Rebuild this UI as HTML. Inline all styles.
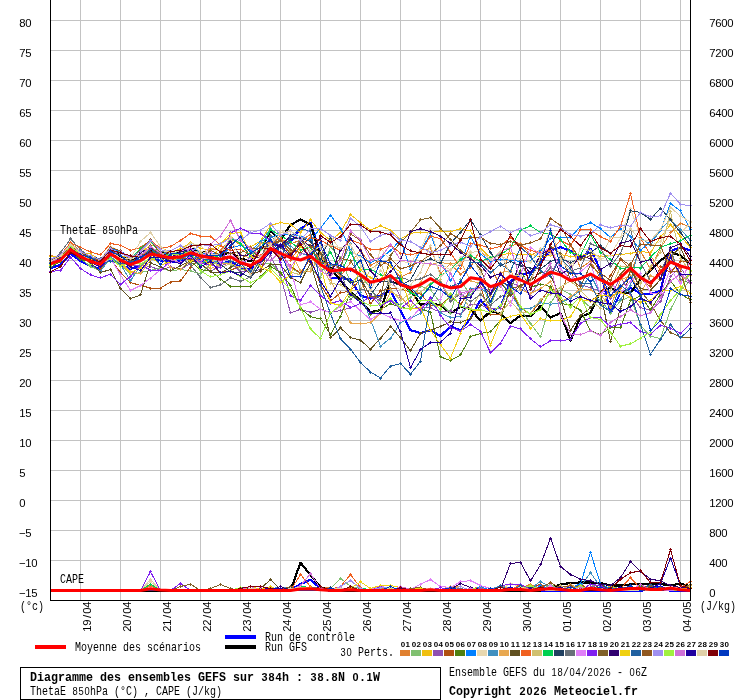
<!DOCTYPE html>
<html><head><meta charset="utf-8"><title>Diagramme des ensembles GEFS</title>
<style>
html,body{margin:0;padding:0;background:#fff;}
body{width:740px;height:700px;overflow:hidden;font-family:"Liberation Mono",monospace;}
svg{display:block;}
text{font-family:"Liberation Mono",monospace;}
</style></head><body>
<svg width="740" height="700" viewBox="0 0 740 700">
<rect width="740" height="700" fill="#fff"/>
<path d="M80.5,0V600M120.5,0V600M160.5,0V600M200.5,0V600M240.5,0V600M280.5,0V600M320.5,0V600M360.5,0V600M400.5,0V600M440.5,0V600M480.5,0V600M520.5,0V600M560.5,0V600M600.5,0V600M640.5,0V600M680.5,0V600M50,20.5H690M50,50.5H690M50,80.5H690M50,110.5H690M50,140.5H690M50,170.5H690M50,200.5H690M50,230.5H690M50,260.5H690M50,290.5H690M50,320.5H690M50,350.5H690M50,380.5H690M50,410.5H690M50,440.5H690M50,470.5H690M50,500.5H690M50,530.5H690M50,560.5H690M50,590.5H690" stroke="#c3c3c3" stroke-width="1" fill="none" shape-rendering="crispEdges"/>
<g transform="translate(0.5,0.5)" stroke-linejoin="round" shape-rendering="crispEdges">
<polyline points="50,267.8 60,264.1 70,253.4 80,260.4 90,265.5 100,268.3 110,257.9 120,264.1 130,268.5 140,264.8 150,258.0 160,260.0 170,261.8 180,260.8 190,256.8 200,260.0 210,261.8 220,263.3 230,260.8 240,266.7 250,269.5 260,262.0 270,240.0 280,247.0 290,241.6 300,228.0 310,222.3 320,253.5 330,277.3 340,277.3 350,278.8 360,295.0 370,298.0 380,295.0 390,290.0 400,310.3 410,329.6 420,332.6 430,329.6 440,335.5 450,325.7 460,330.0 470,318.0 480,299.5 490,311.4 500,306.2 510,281.0 520,274.0 530,272.0 540,262.4 550,250.0 560,246.7 570,250.4 580,259.3 590,248.2 600,270.0 610,312.6 620,292.5 630,287.3 640,293.0 650,293.7 660,290.5 670,250.6 680,246.9 690,249.9" fill="none" stroke="#0000ff" stroke-width="2.2" />
<polyline points="50,590.5 60,590.5 70,590.5 80,590.5 90,590.5 100,590.5 110,590.5 120,590.5 130,590.5 140,590.5 150,590.5 160,590.5 170,590.5 180,590.5 190,590.5 200,590.5 210,590.5 220,590.5 230,590.5 240,590.5 250,590.5 260,590.5 270,590.5 280,590.5 290,589.5 300,583.6 310,579.2 320,588.0 330,590.5 340,590.5 350,590.5 360,590.5 370,590.5 380,590.5 390,590.5 400,590.5 410,590.5 420,590.5 430,590.5 440,590.5 450,590.5 460,590.5 470,590.5 480,590.5 490,590.5 500,590.5 510,590.5 520,590.5 530,589.0 540,590.5 550,590.5 560,590.5 570,590.5 580,590.5 590,590.5 600,590.5 610,590.5 620,590.5 630,590.5 640,590.5 650,588.0 660,586.0 670,590.5 680,590.5 690,590.5" fill="none" stroke="#0000ff" stroke-width="2.2" />
<polyline points="50,259.1 60,255.4 70,244.7 80,251.7 90,256.8 100,259.6 110,249.2 120,255.4 130,259.8 140,256.1 150,249.3 160,251.3 170,253.1 180,252.1 190,248.1 200,251.3 210,253.1 220,254.6 230,252.1 240,258.0 250,260.8 260,250.0 270,230.5 280,239.4 290,224.5 300,219.0 310,223.8 320,257.0 330,267.0 340,280.0 350,291.5 360,299.9 370,311.8 380,309.5 390,281.0 400,284.0 410,289.5 420,304.3 430,302.5 440,305.0 450,312.7 460,306.2 470,308.4 480,320.3 490,310.7 500,312.9 510,322.6 520,315.1 530,315.9 540,305.5 550,317.0 560,312.6 570,340.0 580,316.3 590,312.6 600,291.0 610,287.3 620,291.8 630,292.5 640,278.5 650,270.3 660,260.3 670,251.4 680,255.0 690,263.2" fill="none" stroke="#000000" stroke-width="2.2" />
<polyline points="50,590.0 60,590.0 70,590.0 80,590.0 90,590.0 100,590.0 110,590.0 120,590.0 130,590.0 140,590.0 150,590.0 160,590.0 170,590.0 180,590.0 190,590.0 200,590.0 210,590.0 220,590.0 230,590.0 240,590.0 250,590.0 260,590.0 270,590.0 280,590.0 290,590.0 300,562.2 310,574.7 320,586.6 330,590.0 340,590.0 350,590.0 360,590.0 370,590.0 380,590.0 390,590.0 400,590.0 410,590.0 420,590.0 430,590.0 440,590.0 450,590.0 460,590.0 470,590.0 480,590.0 490,590.0 500,590.0 510,590.0 520,590.0 530,590.0 540,590.0 550,587.0 560,584.0 570,582.5 580,582.0 590,582.0 600,582.5 610,585.0 620,585.0 630,584.0 640,583.5 650,583.5 660,583.5 670,585.0 680,583.0 690,586.0" fill="none" stroke="#000000" stroke-width="2.2" />
</g>
<g shape-rendering="crispEdges" transform="translate(0.5,0.5)">
<polyline points="50,255.0 60,257.0 70,243.0 80,250.1 90,256.2 100,260.4 110,250.2 120,252.7 130,258.3 140,256.3 150,247.1 160,251.1 170,251.6 180,253.6 190,249.7 200,254.8 210,248.3 220,249.9 230,238.5 240,244.3 250,250.2 260,241.4 270,242.4 280,238.2 290,243.4 300,239.6 310,234.4 320,264.9 330,263.9 340,275.8 350,262.5 360,249.3 370,264.8 380,260.0 390,265.7 400,276.7 410,272.0 420,249.5 430,248.2 440,272.8 450,263.1 460,273.6 470,266.8 480,248.8 490,265.6 500,286.3 510,245.4 520,243.0 530,254.9 540,249.5 550,251.3 560,264.0 570,244.2 580,267.5 590,260.7 600,277.4 610,298.1 620,288.2 630,271.5 640,250.4 650,268.9 660,247.4 670,232.5 680,222.7 690,226.8" fill="none" stroke="#E08030" stroke-width="1" />
<path d="M48.5,255.0h3M50,253.5v3M58.5,257.0h3M60,255.5v3M68.5,243.0h3M70,241.5v3M78.5,250.0h3M80,248.5v3M88.5,256.0h3M90,254.5v3M98.5,260.0h3M100,258.5v3M108.5,250.0h3M110,248.5v3M118.5,253.0h3M120,251.5v3M128.5,258.0h3M130,256.5v3M138.5,256.0h3M140,254.5v3M148.5,247.0h3M150,245.5v3M158.5,251.0h3M160,249.5v3M168.5,252.0h3M170,250.5v3M178.5,254.0h3M180,252.5v3M188.5,250.0h3M190,248.5v3M198.5,255.0h3M200,253.5v3M208.5,248.0h3M210,246.5v3M218.5,250.0h3M220,248.5v3M228.5,238.0h3M230,236.5v3M238.5,244.0h3M240,242.5v3M248.5,250.0h3M250,248.5v3M258.5,241.0h3M260,239.5v3M268.5,242.0h3M270,240.5v3M278.5,238.0h3M280,236.5v3M288.5,243.0h3M290,241.5v3M298.5,240.0h3M300,238.5v3M308.5,234.0h3M310,232.5v3M318.5,265.0h3M320,263.5v3M328.5,264.0h3M330,262.5v3M338.5,276.0h3M340,274.5v3M348.5,262.0h3M350,260.5v3M358.5,249.0h3M360,247.5v3M368.5,265.0h3M370,263.5v3M378.5,260.0h3M380,258.5v3M388.5,266.0h3M390,264.5v3M398.5,277.0h3M400,275.5v3M408.5,272.0h3M410,270.5v3M418.5,249.0h3M420,247.5v3M428.5,248.0h3M430,246.5v3M438.5,273.0h3M440,271.5v3M448.5,263.0h3M450,261.5v3M458.5,274.0h3M460,272.5v3M468.5,267.0h3M470,265.5v3M478.5,249.0h3M480,247.5v3M488.5,266.0h3M490,264.5v3M498.5,286.0h3M500,284.5v3M508.5,245.0h3M510,243.5v3M518.5,243.0h3M520,241.5v3M528.5,255.0h3M530,253.5v3M538.5,249.0h3M540,247.5v3M548.5,251.0h3M550,249.5v3M558.5,264.0h3M560,262.5v3M568.5,244.0h3M570,242.5v3M578.5,268.0h3M580,266.5v3M588.5,261.0h3M590,259.5v3M598.5,277.0h3M600,275.5v3M608.5,298.0h3M610,296.5v3M618.5,288.0h3M620,286.5v3M628.5,271.0h3M630,269.5v3M638.5,250.0h3M640,248.5v3M648.5,269.0h3M650,267.5v3M658.5,247.0h3M660,245.5v3M668.5,232.0h3M670,230.5v3M678.5,223.0h3M680,221.5v3M688.5,227.0h3M690,225.5v3" stroke="#E08030" stroke-width="1" fill="none"/>
<polyline points="50,589.0 60,590.0 70,590.0 80,590.0 90,590.0 100,590.0 110,589.0 120,590.0 130,590.0 140,590.0 150,585.0 160,590.0 170,589.0 180,590.0 190,590.0 200,590.0 210,590.0 220,590.0 230,590.0 240,590.0 250,589.0 260,590.0 270,590.0 280,589.0 290,590.0 300,590.0 310,590.0 320,588.0 330,587.0 340,590.0 350,590.0 360,590.0 370,589.0 380,590.0 390,590.0 400,589.0 410,590.0 420,589.0 430,590.0 440,590.0 450,590.0 460,590.0 470,588.0 480,587.0 490,590.0 500,590.0 510,590.0 520,588.4 530,583.6 540,589.0 550,590.0 560,590.0 570,590.0 580,590.0 590,590.0 600,589.0 610,590.0 620,590.0 630,590.0 640,590.0 650,590.0 660,590.0 670,589.0 680,586.8 690,586.8" fill="none" stroke="#E08030" stroke-width="1" />
<path d="M148.5,585h3M150,583.5v3M318.5,588h3M320,586.5v3M328.5,587h3M330,585.5v3M468.5,588h3M470,586.5v3M478.5,587h3M480,585.5v3M518.5,588h3M520,586.5v3M528.5,584h3M530,582.5v3M678.5,587h3M680,585.5v3M688.5,587h3M690,585.5v3" stroke="#E08030" stroke-width="1" fill="none"/>
<polyline points="50,263.5 60,261.1 70,249.8 80,257.9 90,266.1 100,270.3 110,257.7 120,262.9 130,274.5 140,272.0 150,270.0 160,267.4 170,270.4 180,269.0 190,270.4 200,273.4 210,263.6 220,261.4 230,264.4 240,269.2 250,270.2 260,263.3 270,262.5 280,272.8 290,267.3 300,272.8 310,267.8 320,277.0 330,246.4 340,257.1 350,282.1 360,274.9 370,287.8 380,303.9 390,300.7 400,304.1 410,297.2 420,285.7 430,289.2 440,302.6 450,312.6 460,278.9 470,295.3 480,278.8 490,305.2 500,280.4 510,287.2 520,309.1 530,323.0 540,336.2 550,302.5 560,288.5 570,294.0 580,297.6 590,307.2 600,298.9 610,312.5 620,300.3 630,296.1 640,325.0 650,335.8 660,338.0 670,309.0 680,289.7 690,280.0" fill="none" stroke="#80C070" stroke-width="1" />
<path d="M48.5,264.0h3M50,262.5v3M58.5,261.0h3M60,259.5v3M68.5,250.0h3M70,248.5v3M78.5,258.0h3M80,256.5v3M88.5,266.0h3M90,264.5v3M98.5,270.0h3M100,268.5v3M108.5,258.0h3M110,256.5v3M118.5,263.0h3M120,261.5v3M128.5,274.0h3M130,272.5v3M138.5,272.0h3M140,270.5v3M148.5,270.0h3M150,268.5v3M158.5,267.0h3M160,265.5v3M168.5,270.0h3M170,268.5v3M178.5,269.0h3M180,267.5v3M188.5,270.0h3M190,268.5v3M198.5,273.0h3M200,271.5v3M208.5,264.0h3M210,262.5v3M218.5,261.0h3M220,259.5v3M228.5,264.0h3M230,262.5v3M238.5,269.0h3M240,267.5v3M248.5,270.0h3M250,268.5v3M258.5,263.0h3M260,261.5v3M268.5,263.0h3M270,261.5v3M278.5,273.0h3M280,271.5v3M288.5,267.0h3M290,265.5v3M298.5,273.0h3M300,271.5v3M308.5,268.0h3M310,266.5v3M318.5,277.0h3M320,275.5v3M328.5,246.0h3M330,244.5v3M338.5,257.0h3M340,255.5v3M348.5,282.0h3M350,280.5v3M358.5,275.0h3M360,273.5v3M368.5,288.0h3M370,286.5v3M378.5,304.0h3M380,302.5v3M388.5,301.0h3M390,299.5v3M398.5,304.0h3M400,302.5v3M408.5,297.0h3M410,295.5v3M418.5,286.0h3M420,284.5v3M428.5,289.0h3M430,287.5v3M438.5,303.0h3M440,301.5v3M448.5,313.0h3M450,311.5v3M458.5,279.0h3M460,277.5v3M468.5,295.0h3M470,293.5v3M478.5,279.0h3M480,277.5v3M488.5,305.0h3M490,303.5v3M498.5,280.0h3M500,278.5v3M508.5,287.0h3M510,285.5v3M518.5,309.0h3M520,307.5v3M528.5,323.0h3M530,321.5v3M538.5,336.0h3M540,334.5v3M548.5,302.0h3M550,300.5v3M558.5,288.0h3M560,286.5v3M568.5,294.0h3M570,292.5v3M578.5,298.0h3M580,296.5v3M588.5,307.0h3M590,305.5v3M598.5,299.0h3M600,297.5v3M608.5,313.0h3M610,311.5v3M618.5,300.0h3M620,298.5v3M628.5,296.0h3M630,294.5v3M638.5,325.0h3M640,323.5v3M648.5,336.0h3M650,334.5v3M658.5,338.0h3M660,336.5v3M668.5,309.0h3M670,307.5v3M678.5,290.0h3M680,288.5v3M688.5,280.0h3M690,278.5v3" stroke="#80C070" stroke-width="1" fill="none"/>
<polyline points="50,590.0 60,590.0 70,590.0 80,590.0 90,590.0 100,590.0 110,590.0 120,590.0 130,590.0 140,590.0 150,590.0 160,590.0 170,589.0 180,590.0 190,590.0 200,590.0 210,589.0 220,589.0 230,589.0 240,590.0 250,590.0 260,590.0 270,589.0 280,590.0 290,590.0 300,589.0 310,590.0 320,590.0 330,588.0 340,577.7 350,586.0 360,588.0 370,589.0 380,588.0 390,590.0 400,588.0 410,590.0 420,590.0 430,590.0 440,590.0 450,589.0 460,589.0 470,590.0 480,590.0 490,589.0 500,590.0 510,590.0 520,590.0 530,586.8 540,590.0 550,583.6 560,590.0 570,590.0 580,590.0 590,583.6 600,590.0 610,585.2 620,589.0 630,590.0 640,590.0 650,590.0 660,590.0 670,589.0 680,590.0 690,590.0" fill="none" stroke="#80C070" stroke-width="1" />
<path d="M328.5,588h3M330,586.5v3M338.5,578h3M340,576.5v3M348.5,586h3M350,584.5v3M358.5,588h3M360,586.5v3M378.5,588h3M380,586.5v3M398.5,588h3M400,586.5v3M528.5,587h3M530,585.5v3M548.5,584h3M550,582.5v3M588.5,584h3M590,582.5v3M608.5,585h3M610,583.5v3" stroke="#80C070" stroke-width="1" fill="none"/>
<polyline points="50,255.5 60,256.0 70,244.0 80,251.8 90,253.5 100,259.5 110,248.0 120,255.1 130,257.5 140,252.6 150,244.7 160,246.9 170,251.7 180,248.3 190,242.2 200,248.0 210,249.5 220,243.5 230,235.6 240,243.8 250,246.4 260,240.5 270,225.0 280,222.0 290,223.8 300,232.0 310,219.3 320,232.0 330,240.0 340,232.0 350,214.0 360,222.3 370,229.7 380,225.3 390,229.7 400,238.6 410,232.7 420,232.0 430,232.0 440,230.5 450,231.2 460,228.2 470,230.5 480,247.6 490,257.2 500,254.3 510,252.8 520,254.3 530,253.5 540,256.5 550,255.0 560,254.0 570,256.0 580,255.0 590,253.0 600,256.0 610,255.0 620,254.0 630,253.0 640,250.6 650,252.5 660,236.5 670,224.3 680,235.7 690,247.0" fill="none" stroke="#F0C010" stroke-width="1" />
<path d="M48.5,256.0h3M50,254.5v3M58.5,256.0h3M60,254.5v3M68.5,244.0h3M70,242.5v3M78.5,252.0h3M80,250.5v3M88.5,253.0h3M90,251.5v3M98.5,259.0h3M100,257.5v3M108.5,248.0h3M110,246.5v3M118.5,255.0h3M120,253.5v3M128.5,257.0h3M130,255.5v3M138.5,253.0h3M140,251.5v3M148.5,245.0h3M150,243.5v3M158.5,247.0h3M160,245.5v3M168.5,252.0h3M170,250.5v3M178.5,248.0h3M180,246.5v3M188.5,242.0h3M190,240.5v3M198.5,248.0h3M200,246.5v3M208.5,250.0h3M210,248.5v3M218.5,244.0h3M220,242.5v3M228.5,236.0h3M230,234.5v3M238.5,244.0h3M240,242.5v3M248.5,246.0h3M250,244.5v3M258.5,241.0h3M260,239.5v3M268.5,225.0h3M270,223.5v3M278.5,222.0h3M280,220.5v3M288.5,224.0h3M290,222.5v3M298.5,232.0h3M300,230.5v3M308.5,219.0h3M310,217.5v3M318.5,232.0h3M320,230.5v3M328.5,240.0h3M330,238.5v3M338.5,232.0h3M340,230.5v3M348.5,214.0h3M350,212.5v3M358.5,222.0h3M360,220.5v3M368.5,230.0h3M370,228.5v3M378.5,225.0h3M380,223.5v3M388.5,230.0h3M390,228.5v3M398.5,239.0h3M400,237.5v3M408.5,233.0h3M410,231.5v3M418.5,232.0h3M420,230.5v3M428.5,232.0h3M430,230.5v3M438.5,230.0h3M440,228.5v3M448.5,231.0h3M450,229.5v3M458.5,228.0h3M460,226.5v3M468.5,230.0h3M470,228.5v3M478.5,248.0h3M480,246.5v3M488.5,257.0h3M490,255.5v3M498.5,254.0h3M500,252.5v3M508.5,253.0h3M510,251.5v3M518.5,254.0h3M520,252.5v3M528.5,254.0h3M530,252.5v3M538.5,256.0h3M540,254.5v3M548.5,255.0h3M550,253.5v3M558.5,254.0h3M560,252.5v3M568.5,256.0h3M570,254.5v3M578.5,255.0h3M580,253.5v3M588.5,253.0h3M590,251.5v3M598.5,256.0h3M600,254.5v3M608.5,255.0h3M610,253.5v3M618.5,254.0h3M620,252.5v3M628.5,253.0h3M630,251.5v3M638.5,251.0h3M640,249.5v3M648.5,252.0h3M650,250.5v3M658.5,236.0h3M660,234.5v3M668.5,224.0h3M670,222.5v3M678.5,236.0h3M680,234.5v3M688.5,247.0h3M690,245.5v3" stroke="#F0C010" stroke-width="1" fill="none"/>
<polyline points="50,590.0 60,590.0 70,590.0 80,590.0 90,589.0 100,590.0 110,590.0 120,590.0 130,590.0 140,590.0 150,589.0 160,590.0 170,589.0 180,590.0 190,590.0 200,590.0 210,590.0 220,590.0 230,590.0 240,589.0 250,588.0 260,589.0 270,590.0 280,589.0 290,590.0 300,590.0 310,590.0 320,590.0 330,590.0 340,590.0 350,589.0 360,589.0 370,589.0 380,586.0 390,590.0 400,590.0 410,590.0 420,590.0 430,589.0 440,590.0 450,589.0 460,586.0 470,590.0 480,590.0 490,590.0 500,590.0 510,588.4 520,590.0 530,590.0 540,590.0 550,590.0 560,590.0 570,590.0 580,590.0 590,590.0 600,590.0 610,585.2 620,590.0 630,589.0 640,590.0 650,590.0 660,588.4 670,590.0 680,590.0 690,586.8" fill="none" stroke="#F0C010" stroke-width="1" />
<path d="M248.5,588h3M250,586.5v3M378.5,586h3M380,584.5v3M458.5,586h3M460,584.5v3M508.5,588h3M510,586.5v3M608.5,585h3M610,583.5v3M658.5,588h3M660,586.5v3M688.5,587h3M690,585.5v3" stroke="#F0C010" stroke-width="1" fill="none"/>
<polyline points="50,262.8 60,254.3 70,243.7 80,256.8 90,259.1 100,259.6 110,249.2 120,258.4 130,265.5 140,264.4 150,266.1 160,269.6 170,266.5 180,268.8 190,263.2 200,263.4 210,270.7 220,265.2 230,261.9 240,271.4 250,270.8 260,269.0 270,255.2 280,275.0 290,312.5 300,308.8 310,311.8 320,308.8 330,311.8 340,310.0 350,307.3 360,302.8 370,295.4 380,300.0 390,277.5 400,296.5 410,308.0 420,306.8 430,307.5 440,311.6 450,310.3 460,313.6 470,303.7 480,304.8 490,307.6 500,307.9 510,282.4 520,285.5 530,294.5 540,279.3 550,274.0 560,255.0 570,264.6 580,283.9 590,287.2 600,290.7 610,297.6 620,275.5 630,294.1 640,307.2 650,309.6 660,301.5 670,275.9 680,266.8 690,282.3" fill="none" stroke="#9050B0" stroke-width="1" />
<path d="M48.5,263.0h3M50,261.5v3M58.5,254.0h3M60,252.5v3M68.5,244.0h3M70,242.5v3M78.5,257.0h3M80,255.5v3M88.5,259.0h3M90,257.5v3M98.5,260.0h3M100,258.5v3M108.5,249.0h3M110,247.5v3M118.5,258.0h3M120,256.5v3M128.5,265.0h3M130,263.5v3M138.5,264.0h3M140,262.5v3M148.5,266.0h3M150,264.5v3M158.5,270.0h3M160,268.5v3M168.5,266.0h3M170,264.5v3M178.5,269.0h3M180,267.5v3M188.5,263.0h3M190,261.5v3M198.5,263.0h3M200,261.5v3M208.5,271.0h3M210,269.5v3M218.5,265.0h3M220,263.5v3M228.5,262.0h3M230,260.5v3M238.5,271.0h3M240,269.5v3M248.5,271.0h3M250,269.5v3M258.5,269.0h3M260,267.5v3M268.5,255.0h3M270,253.5v3M278.5,275.0h3M280,273.5v3M288.5,312.0h3M290,310.5v3M298.5,309.0h3M300,307.5v3M308.5,312.0h3M310,310.5v3M318.5,309.0h3M320,307.5v3M328.5,312.0h3M330,310.5v3M338.5,310.0h3M340,308.5v3M348.5,307.0h3M350,305.5v3M358.5,303.0h3M360,301.5v3M368.5,295.0h3M370,293.5v3M378.5,300.0h3M380,298.5v3M388.5,277.0h3M390,275.5v3M398.5,297.0h3M400,295.5v3M408.5,308.0h3M410,306.5v3M418.5,307.0h3M420,305.5v3M428.5,307.0h3M430,305.5v3M438.5,312.0h3M440,310.5v3M448.5,310.0h3M450,308.5v3M458.5,314.0h3M460,312.5v3M468.5,304.0h3M470,302.5v3M478.5,305.0h3M480,303.5v3M488.5,308.0h3M490,306.5v3M498.5,308.0h3M500,306.5v3M508.5,282.0h3M510,280.5v3M518.5,286.0h3M520,284.5v3M528.5,295.0h3M530,293.5v3M538.5,279.0h3M540,277.5v3M548.5,274.0h3M550,272.5v3M558.5,255.0h3M560,253.5v3M568.5,265.0h3M570,263.5v3M578.5,284.0h3M580,282.5v3M588.5,287.0h3M590,285.5v3M598.5,291.0h3M600,289.5v3M608.5,298.0h3M610,296.5v3M618.5,275.0h3M620,273.5v3M628.5,294.0h3M630,292.5v3M638.5,307.0h3M640,305.5v3M648.5,310.0h3M650,308.5v3M658.5,301.0h3M660,299.5v3M668.5,276.0h3M670,274.5v3M678.5,267.0h3M680,265.5v3M688.5,282.0h3M690,280.5v3" stroke="#9050B0" stroke-width="1" fill="none"/>
<polyline points="50,590.0 60,590.0 70,590.0 80,590.0 90,590.0 100,590.0 110,590.0 120,590.0 130,590.0 140,590.0 150,590.0 160,590.0 170,590.0 180,590.0 190,590.0 200,590.0 210,590.0 220,590.0 230,590.0 240,590.0 250,588.0 260,590.0 270,590.0 280,588.0 290,590.0 300,586.0 310,589.0 320,589.0 330,589.0 340,587.0 350,590.0 360,590.0 370,590.0 380,589.0 390,589.0 400,590.0 410,590.0 420,590.0 430,590.0 440,590.0 450,590.0 460,590.0 470,590.0 480,588.0 490,590.0 500,590.0 510,589.0 520,589.0 530,589.0 540,583.6 550,590.0 560,590.0 570,585.2 580,590.0 590,586.8 600,583.6 610,590.0 620,590.0 630,590.0 640,585.2 650,586.8 660,590.0 670,590.0 680,590.0 690,590.0" fill="none" stroke="#9050B0" stroke-width="1" />
<path d="M248.5,588h3M250,586.5v3M278.5,588h3M280,586.5v3M298.5,586h3M300,584.5v3M338.5,587h3M340,585.5v3M478.5,588h3M480,586.5v3M538.5,584h3M540,582.5v3M568.5,585h3M570,583.5v3M588.5,587h3M590,585.5v3M598.5,584h3M600,582.5v3M638.5,585h3M640,583.5v3M648.5,587h3M650,585.5v3" stroke="#9050B0" stroke-width="1" fill="none"/>
<polyline points="50,263.4 60,256.5 70,244.8 80,254.2 90,260.2 100,267.6 110,258.4 120,272.0 130,282.0 140,285.0 150,287.5 160,287.5 170,281.6 180,280.5 190,266.7 200,257.3 210,262.1 220,272.5 230,269.7 240,265.8 250,273.1 260,271.0 270,242.9 280,253.0 290,265.5 300,272.7 310,257.9 320,284.0 330,300.4 340,292.4 350,290.6 360,278.6 370,303.3 380,290.3 390,288.1 400,288.6 410,291.4 420,293.1 430,304.8 440,304.9 450,295.7 460,304.2 470,289.3 480,286.6 490,313.7 500,313.8 510,290.0 520,307.7 530,313.3 540,300.9 550,287.4 560,293.5 570,268.3 580,295.6 590,300.5 600,293.9 610,274.9 620,258.8 630,269.0 640,278.3 650,286.3 660,266.2 670,271.7 680,261.1 690,260.4" fill="none" stroke="#B05010" stroke-width="1" />
<path d="M48.5,263.0h3M50,261.5v3M58.5,256.0h3M60,254.5v3M68.5,245.0h3M70,243.5v3M78.5,254.0h3M80,252.5v3M88.5,260.0h3M90,258.5v3M98.5,268.0h3M100,266.5v3M108.5,258.0h3M110,256.5v3M118.5,272.0h3M120,270.5v3M128.5,282.0h3M130,280.5v3M138.5,285.0h3M140,283.5v3M148.5,288.0h3M150,286.5v3M158.5,288.0h3M160,286.5v3M168.5,282.0h3M170,280.5v3M178.5,280.0h3M180,278.5v3M188.5,267.0h3M190,265.5v3M198.5,257.0h3M200,255.5v3M208.5,262.0h3M210,260.5v3M218.5,272.0h3M220,270.5v3M228.5,270.0h3M230,268.5v3M238.5,266.0h3M240,264.5v3M248.5,273.0h3M250,271.5v3M258.5,271.0h3M260,269.5v3M268.5,243.0h3M270,241.5v3M278.5,253.0h3M280,251.5v3M288.5,265.0h3M290,263.5v3M298.5,273.0h3M300,271.5v3M308.5,258.0h3M310,256.5v3M318.5,284.0h3M320,282.5v3M328.5,300.0h3M330,298.5v3M338.5,292.0h3M340,290.5v3M348.5,291.0h3M350,289.5v3M358.5,279.0h3M360,277.5v3M368.5,303.0h3M370,301.5v3M378.5,290.0h3M380,288.5v3M388.5,288.0h3M390,286.5v3M398.5,289.0h3M400,287.5v3M408.5,291.0h3M410,289.5v3M418.5,293.0h3M420,291.5v3M428.5,305.0h3M430,303.5v3M438.5,305.0h3M440,303.5v3M448.5,296.0h3M450,294.5v3M458.5,304.0h3M460,302.5v3M468.5,289.0h3M470,287.5v3M478.5,287.0h3M480,285.5v3M488.5,314.0h3M490,312.5v3M498.5,314.0h3M500,312.5v3M508.5,290.0h3M510,288.5v3M518.5,308.0h3M520,306.5v3M528.5,313.0h3M530,311.5v3M538.5,301.0h3M540,299.5v3M548.5,287.0h3M550,285.5v3M558.5,293.0h3M560,291.5v3M568.5,268.0h3M570,266.5v3M578.5,296.0h3M580,294.5v3M588.5,301.0h3M590,299.5v3M598.5,294.0h3M600,292.5v3M608.5,275.0h3M610,273.5v3M618.5,259.0h3M620,257.5v3M628.5,269.0h3M630,267.5v3M638.5,278.0h3M640,276.5v3M648.5,286.0h3M650,284.5v3M658.5,266.0h3M660,264.5v3M668.5,272.0h3M670,270.5v3M678.5,261.0h3M680,259.5v3M688.5,260.0h3M690,258.5v3" stroke="#B05010" stroke-width="1" fill="none"/>
<polyline points="50,590.0 60,590.0 70,590.0 80,590.0 90,590.0 100,589.0 110,589.0 120,590.0 130,590.0 140,590.0 150,590.0 160,590.0 170,590.0 180,590.0 190,589.0 200,590.0 210,590.0 220,590.0 230,590.0 240,590.0 250,590.0 260,590.0 270,588.0 280,589.0 290,586.0 300,590.0 310,588.0 320,589.0 330,590.0 340,590.0 350,590.0 360,590.0 370,589.0 380,590.0 390,590.0 400,590.0 410,590.0 420,588.0 430,590.0 440,590.0 450,588.0 460,589.0 470,590.0 480,590.0 490,589.0 500,590.0 510,590.0 520,590.0 530,586.8 540,583.6 550,590.0 560,586.8 570,590.0 580,583.6 590,590.0 600,590.0 610,590.0 620,590.0 630,590.0 640,583.6 650,589.0 660,588.4 670,588.4 680,590.0 690,590.0" fill="none" stroke="#B05010" stroke-width="1" />
<path d="M268.5,588h3M270,586.5v3M288.5,586h3M290,584.5v3M308.5,588h3M310,586.5v3M418.5,588h3M420,586.5v3M448.5,588h3M450,586.5v3M528.5,587h3M530,585.5v3M538.5,584h3M540,582.5v3M558.5,587h3M560,585.5v3M578.5,584h3M580,582.5v3M638.5,584h3M640,582.5v3M658.5,588h3M660,586.5v3M668.5,588h3M670,586.5v3" stroke="#B05010" stroke-width="1" fill="none"/>
<polyline points="50,266.8 60,261.0 70,250.7 80,259.1 90,261.4 100,262.3 110,257.1 120,264.0 130,264.3 140,256.6 150,250.5 160,255.5 170,267.3 180,268.5 190,261.1 200,269.2 210,270.4 220,278.6 230,286.0 240,286.0 250,286.0 260,276.0 270,266.0 280,272.0 290,285.0 300,308.0 310,316.2 320,318.4 330,334.0 340,315.5 350,292.0 360,300.8 370,313.7 380,308.9 390,303.2 400,306.9 410,308.2 420,308.0 430,311.8 440,356.4 450,360.0 460,354.5 470,336.0 480,333.0 490,331.2 500,320.0 510,286.3 520,270.0 530,286.7 540,283.7 550,286.2 560,303.0 570,304.4 580,309.6 590,330.4 600,334.0 610,327.4 620,327.4 630,300.0 640,295.2 650,309.4 660,293.8 670,280.3 680,293.6 690,299.3" fill="none" stroke="#508010" stroke-width="1" />
<path d="M48.5,267.0h3M50,265.5v3M58.5,261.0h3M60,259.5v3M68.5,251.0h3M70,249.5v3M78.5,259.0h3M80,257.5v3M88.5,261.0h3M90,259.5v3M98.5,262.0h3M100,260.5v3M108.5,257.0h3M110,255.5v3M118.5,264.0h3M120,262.5v3M128.5,264.0h3M130,262.5v3M138.5,257.0h3M140,255.5v3M148.5,251.0h3M150,249.5v3M158.5,256.0h3M160,254.5v3M168.5,267.0h3M170,265.5v3M178.5,269.0h3M180,267.5v3M188.5,261.0h3M190,259.5v3M198.5,269.0h3M200,267.5v3M208.5,270.0h3M210,268.5v3M218.5,279.0h3M220,277.5v3M228.5,286.0h3M230,284.5v3M238.5,286.0h3M240,284.5v3M248.5,286.0h3M250,284.5v3M258.5,276.0h3M260,274.5v3M268.5,266.0h3M270,264.5v3M278.5,272.0h3M280,270.5v3M288.5,285.0h3M290,283.5v3M298.5,308.0h3M300,306.5v3M308.5,316.0h3M310,314.5v3M318.5,318.0h3M320,316.5v3M328.5,334.0h3M330,332.5v3M338.5,316.0h3M340,314.5v3M348.5,292.0h3M350,290.5v3M358.5,301.0h3M360,299.5v3M368.5,314.0h3M370,312.5v3M378.5,309.0h3M380,307.5v3M388.5,303.0h3M390,301.5v3M398.5,307.0h3M400,305.5v3M408.5,308.0h3M410,306.5v3M418.5,308.0h3M420,306.5v3M428.5,312.0h3M430,310.5v3M438.5,356.0h3M440,354.5v3M448.5,360.0h3M450,358.5v3M458.5,354.0h3M460,352.5v3M468.5,336.0h3M470,334.5v3M478.5,333.0h3M480,331.5v3M488.5,331.0h3M490,329.5v3M498.5,320.0h3M500,318.5v3M508.5,286.0h3M510,284.5v3M518.5,270.0h3M520,268.5v3M528.5,287.0h3M530,285.5v3M538.5,284.0h3M540,282.5v3M548.5,286.0h3M550,284.5v3M558.5,303.0h3M560,301.5v3M568.5,304.0h3M570,302.5v3M578.5,310.0h3M580,308.5v3M588.5,330.0h3M590,328.5v3M598.5,334.0h3M600,332.5v3M608.5,327.0h3M610,325.5v3M618.5,327.0h3M620,325.5v3M628.5,300.0h3M630,298.5v3M638.5,295.0h3M640,293.5v3M648.5,309.0h3M650,307.5v3M658.5,294.0h3M660,292.5v3M668.5,280.0h3M670,278.5v3M678.5,294.0h3M680,292.5v3M688.5,299.0h3M690,297.5v3" stroke="#508010" stroke-width="1" fill="none"/>
<polyline points="50,590.0 60,590.0 70,590.0 80,590.0 90,590.0 100,590.0 110,590.0 120,590.0 130,590.0 140,590.0 150,590.0 160,590.0 170,590.0 180,590.0 190,590.0 200,590.0 210,589.0 220,590.0 230,590.0 240,590.0 250,590.0 260,590.0 270,589.0 280,590.0 290,589.0 300,590.0 310,589.0 320,590.0 330,590.0 340,590.0 350,590.0 360,590.0 370,590.0 380,590.0 390,590.0 400,589.0 410,589.0 420,590.0 430,588.0 440,590.0 450,590.0 460,589.0 470,590.0 480,590.0 490,588.0 500,590.0 510,590.0 520,590.0 530,588.4 540,590.0 550,590.0 560,590.0 570,588.4 580,590.0 590,590.0 600,589.0 610,590.0 620,590.0 630,590.0 640,585.2 650,590.0 660,590.0 670,590.0 680,586.8 690,590.0" fill="none" stroke="#508010" stroke-width="1" />
<path d="M428.5,588h3M430,586.5v3M488.5,588h3M490,586.5v3M528.5,588h3M530,586.5v3M568.5,588h3M570,586.5v3M638.5,585h3M640,583.5v3M678.5,587h3M680,585.5v3" stroke="#508010" stroke-width="1" fill="none"/>
<polyline points="50,260.1 60,256.0 70,247.5 80,253.9 90,258.4 100,260.3 110,248.7 120,250.3 130,257.8 140,256.8 150,253.4 160,254.3 170,252.2 180,252.9 190,244.2 200,252.7 210,253.1 220,254.1 230,248.1 240,244.8 250,250.6 260,241.2 270,236.7 280,233.8 290,234.1 300,235.5 310,240.0 320,227.5 330,214.9 340,227.5 350,250.0 360,256.0 370,262.0 380,258.0 390,250.0 400,239.4 410,269.0 420,250.5 430,233.4 440,261.0 450,279.9 460,264.0 470,235.7 480,253.5 490,261.0 500,258.7 510,259.5 520,261.0 530,260.7 540,250.5 550,237.8 560,237.0 570,237.0 580,225.9 590,222.2 600,228.1 610,237.0 620,228.4 630,236.3 640,250.2 650,240.6 660,230.5 670,203.0 680,210.5 690,229.0" fill="none" stroke="#0080FF" stroke-width="1" />
<path d="M48.5,260.0h3M50,258.5v3M58.5,256.0h3M60,254.5v3M68.5,247.0h3M70,245.5v3M78.5,254.0h3M80,252.5v3M88.5,258.0h3M90,256.5v3M98.5,260.0h3M100,258.5v3M108.5,249.0h3M110,247.5v3M118.5,250.0h3M120,248.5v3M128.5,258.0h3M130,256.5v3M138.5,257.0h3M140,255.5v3M148.5,253.0h3M150,251.5v3M158.5,254.0h3M160,252.5v3M168.5,252.0h3M170,250.5v3M178.5,253.0h3M180,251.5v3M188.5,244.0h3M190,242.5v3M198.5,253.0h3M200,251.5v3M208.5,253.0h3M210,251.5v3M218.5,254.0h3M220,252.5v3M228.5,248.0h3M230,246.5v3M238.5,245.0h3M240,243.5v3M248.5,251.0h3M250,249.5v3M258.5,241.0h3M260,239.5v3M268.5,237.0h3M270,235.5v3M278.5,234.0h3M280,232.5v3M288.5,234.0h3M290,232.5v3M298.5,236.0h3M300,234.5v3M308.5,240.0h3M310,238.5v3M318.5,228.0h3M320,226.5v3M328.5,215.0h3M330,213.5v3M338.5,228.0h3M340,226.5v3M348.5,250.0h3M350,248.5v3M358.5,256.0h3M360,254.5v3M368.5,262.0h3M370,260.5v3M378.5,258.0h3M380,256.5v3M388.5,250.0h3M390,248.5v3M398.5,239.0h3M400,237.5v3M408.5,269.0h3M410,267.5v3M418.5,250.0h3M420,248.5v3M428.5,233.0h3M430,231.5v3M438.5,261.0h3M440,259.5v3M448.5,280.0h3M450,278.5v3M458.5,264.0h3M460,262.5v3M468.5,236.0h3M470,234.5v3M478.5,254.0h3M480,252.5v3M488.5,261.0h3M490,259.5v3M498.5,259.0h3M500,257.5v3M508.5,260.0h3M510,258.5v3M518.5,261.0h3M520,259.5v3M528.5,261.0h3M530,259.5v3M538.5,250.0h3M540,248.5v3M548.5,238.0h3M550,236.5v3M558.5,237.0h3M560,235.5v3M568.5,237.0h3M570,235.5v3M578.5,226.0h3M580,224.5v3M588.5,222.0h3M590,220.5v3M598.5,228.0h3M600,226.5v3M608.5,237.0h3M610,235.5v3M618.5,228.0h3M620,226.5v3M628.5,236.0h3M630,234.5v3M638.5,250.0h3M640,248.5v3M648.5,241.0h3M650,239.5v3M658.5,230.0h3M660,228.5v3M668.5,203.0h3M670,201.5v3M678.5,210.0h3M680,208.5v3M688.5,229.0h3M690,227.5v3" stroke="#0080FF" stroke-width="1" fill="none"/>
<polyline points="50,590.0 60,590.0 70,590.0 80,589.0 90,590.0 100,590.0 110,590.0 120,590.0 130,590.0 140,590.0 150,590.0 160,590.0 170,590.0 180,590.0 190,590.0 200,590.0 210,590.0 220,590.0 230,590.0 240,590.0 250,590.0 260,590.0 270,588.0 280,590.0 290,589.0 300,586.0 310,590.0 320,590.0 330,590.0 340,588.0 350,590.0 360,588.0 370,590.0 380,590.0 390,590.0 400,590.0 410,590.0 420,590.0 430,590.0 440,590.0 450,590.0 460,590.0 470,590.0 480,586.0 490,590.0 500,590.0 510,590.0 520,590.0 530,590.0 540,585.2 550,588.4 560,590.0 570,588.0 580,583.0 590,551.8 600,583.5 610,588.0 620,590.0 630,590.0 640,590.0 650,586.8 660,590.0 670,590.0 680,590.0 690,590.0" fill="none" stroke="#0080FF" stroke-width="1" />
<path d="M268.5,588h3M270,586.5v3M298.5,586h3M300,584.5v3M338.5,588h3M340,586.5v3M358.5,588h3M360,586.5v3M478.5,586h3M480,584.5v3M538.5,585h3M540,583.5v3M548.5,588h3M550,586.5v3M568.5,588h3M570,586.5v3M578.5,583h3M580,581.5v3M588.5,552h3M590,550.5v3M598.5,584h3M600,582.5v3M608.5,588h3M610,586.5v3M648.5,587h3M650,585.5v3" stroke="#0080FF" stroke-width="1" fill="none"/>
<polyline points="50,262.4 60,258.4 70,243.6 80,251.0 90,256.0 100,259.3 110,245.5 120,251.0 130,259.8 140,252.2 150,242.3 160,251.1 170,251.9 180,253.3 190,244.9 200,250.9 210,253.8 220,255.7 230,236.4 240,242.7 250,248.1 260,250.2 270,243.0 280,230.0 290,234.4 300,238.0 310,258.6 320,256.4 330,235.3 340,249.9 350,250.6 360,256.9 370,285.0 380,247.7 390,259.8 400,260.4 410,262.9 420,248.5 430,227.6 440,263.1 450,269.6 460,256.9 470,250.8 480,274.4 490,256.5 500,256.1 510,259.2 520,257.5 530,261.8 540,247.7 550,253.9 560,254.5 570,264.0 580,258.1 590,255.9 600,258.8 610,254.7 620,237.3 630,208.0 640,236.6 650,244.8 660,241.1 670,218.4 680,232.7 690,222.2" fill="none" stroke="#E8D8B0" stroke-width="1" />
<path d="M48.5,262.0h3M50,260.5v3M58.5,258.0h3M60,256.5v3M68.5,244.0h3M70,242.5v3M78.5,251.0h3M80,249.5v3M88.5,256.0h3M90,254.5v3M98.5,259.0h3M100,257.5v3M108.5,246.0h3M110,244.5v3M118.5,251.0h3M120,249.5v3M128.5,260.0h3M130,258.5v3M138.5,252.0h3M140,250.5v3M148.5,242.0h3M150,240.5v3M158.5,251.0h3M160,249.5v3M168.5,252.0h3M170,250.5v3M178.5,253.0h3M180,251.5v3M188.5,245.0h3M190,243.5v3M198.5,251.0h3M200,249.5v3M208.5,254.0h3M210,252.5v3M218.5,256.0h3M220,254.5v3M228.5,236.0h3M230,234.5v3M238.5,243.0h3M240,241.5v3M248.5,248.0h3M250,246.5v3M258.5,250.0h3M260,248.5v3M268.5,243.0h3M270,241.5v3M278.5,230.0h3M280,228.5v3M288.5,234.0h3M290,232.5v3M298.5,238.0h3M300,236.5v3M308.5,259.0h3M310,257.5v3M318.5,256.0h3M320,254.5v3M328.5,235.0h3M330,233.5v3M338.5,250.0h3M340,248.5v3M348.5,251.0h3M350,249.5v3M358.5,257.0h3M360,255.5v3M368.5,285.0h3M370,283.5v3M378.5,248.0h3M380,246.5v3M388.5,260.0h3M390,258.5v3M398.5,260.0h3M400,258.5v3M408.5,263.0h3M410,261.5v3M418.5,249.0h3M420,247.5v3M428.5,228.0h3M430,226.5v3M438.5,263.0h3M440,261.5v3M448.5,270.0h3M450,268.5v3M458.5,257.0h3M460,255.5v3M468.5,251.0h3M470,249.5v3M478.5,274.0h3M480,272.5v3M488.5,257.0h3M490,255.5v3M498.5,256.0h3M500,254.5v3M508.5,259.0h3M510,257.5v3M518.5,258.0h3M520,256.5v3M528.5,262.0h3M530,260.5v3M538.5,248.0h3M540,246.5v3M548.5,254.0h3M550,252.5v3M558.5,254.0h3M560,252.5v3M568.5,264.0h3M570,262.5v3M578.5,258.0h3M580,256.5v3M588.5,256.0h3M590,254.5v3M598.5,259.0h3M600,257.5v3M608.5,255.0h3M610,253.5v3M618.5,237.0h3M620,235.5v3M628.5,208.0h3M630,206.5v3M638.5,237.0h3M640,235.5v3M648.5,245.0h3M650,243.5v3M658.5,241.0h3M660,239.5v3M668.5,218.0h3M670,216.5v3M678.5,233.0h3M680,231.5v3M688.5,222.0h3M690,220.5v3" stroke="#E8D8B0" stroke-width="1" fill="none"/>
<polyline points="50,590.0 60,590.0 70,590.0 80,590.0 90,590.0 100,589.0 110,589.0 120,590.0 130,589.0 140,590.0 150,581.0 160,590.0 170,589.0 180,590.0 190,590.0 200,590.0 210,590.0 220,590.0 230,589.0 240,590.0 250,589.0 260,590.0 270,589.0 280,589.0 290,590.0 300,590.0 310,590.0 320,590.0 330,590.0 340,590.0 350,589.0 360,590.0 370,590.0 380,590.0 390,590.0 400,590.0 410,588.0 420,590.0 430,590.0 440,590.0 450,590.0 460,589.0 470,590.0 480,590.0 490,590.0 500,590.0 510,582.6 520,586.8 530,590.0 540,590.0 550,590.0 560,590.0 570,590.0 580,590.0 590,590.0 600,590.0 610,590.0 620,590.0 630,590.0 640,590.0 650,583.6 660,590.0 670,590.0 680,590.0 690,590.0" fill="none" stroke="#E8D8B0" stroke-width="1" />
<path d="M148.5,581h3M150,579.5v3M408.5,588h3M410,586.5v3M508.5,583h3M510,581.5v3M518.5,587h3M520,585.5v3M648.5,584h3M650,582.5v3" stroke="#E8D8B0" stroke-width="1" fill="none"/>
<polyline points="50,265.5 60,259.5 70,244.6 80,251.2 90,263.5 100,271.1 110,256.3 120,264.0 130,280.4 140,265.5 150,257.0 160,258.7 170,258.0 180,259.3 190,254.2 200,260.2 210,261.4 220,260.9 230,263.1 240,267.3 250,255.4 260,242.3 270,228.2 280,239.7 290,245.6 300,252.7 310,256.0 320,269.8 330,265.4 340,265.3 350,243.1 360,292.0 370,319.2 380,345.5 390,337.8 400,322.2 410,317.4 420,313.0 430,301.0 440,312.5 450,317.0 460,315.9 470,288.0 480,288.0 490,294.2 500,281.7 510,293.0 520,308.8 530,307.7 540,302.3 550,303.7 560,302.5 570,297.6 580,289.9 590,274.0 600,294.0 610,307.0 620,298.6 630,285.1 640,237.2 650,244.7 660,229.0 670,219.0 680,229.0 690,239.5" fill="none" stroke="#4090C0" stroke-width="1" />
<path d="M48.5,266.0h3M50,264.5v3M58.5,259.0h3M60,257.5v3M68.5,245.0h3M70,243.5v3M78.5,251.0h3M80,249.5v3M88.5,264.0h3M90,262.5v3M98.5,271.0h3M100,269.5v3M108.5,256.0h3M110,254.5v3M118.5,264.0h3M120,262.5v3M128.5,280.0h3M130,278.5v3M138.5,266.0h3M140,264.5v3M148.5,257.0h3M150,255.5v3M158.5,259.0h3M160,257.5v3M168.5,258.0h3M170,256.5v3M178.5,259.0h3M180,257.5v3M188.5,254.0h3M190,252.5v3M198.5,260.0h3M200,258.5v3M208.5,261.0h3M210,259.5v3M218.5,261.0h3M220,259.5v3M228.5,263.0h3M230,261.5v3M238.5,267.0h3M240,265.5v3M248.5,255.0h3M250,253.5v3M258.5,242.0h3M260,240.5v3M268.5,228.0h3M270,226.5v3M278.5,240.0h3M280,238.5v3M288.5,246.0h3M290,244.5v3M298.5,253.0h3M300,251.5v3M308.5,256.0h3M310,254.5v3M318.5,270.0h3M320,268.5v3M328.5,265.0h3M330,263.5v3M338.5,265.0h3M340,263.5v3M348.5,243.0h3M350,241.5v3M358.5,292.0h3M360,290.5v3M368.5,319.0h3M370,317.5v3M378.5,346.0h3M380,344.5v3M388.5,338.0h3M390,336.5v3M398.5,322.0h3M400,320.5v3M408.5,317.0h3M410,315.5v3M418.5,313.0h3M420,311.5v3M428.5,301.0h3M430,299.5v3M438.5,312.0h3M440,310.5v3M448.5,317.0h3M450,315.5v3M458.5,316.0h3M460,314.5v3M468.5,288.0h3M470,286.5v3M478.5,288.0h3M480,286.5v3M488.5,294.0h3M490,292.5v3M498.5,282.0h3M500,280.5v3M508.5,293.0h3M510,291.5v3M518.5,309.0h3M520,307.5v3M528.5,308.0h3M530,306.5v3M538.5,302.0h3M540,300.5v3M548.5,304.0h3M550,302.5v3M558.5,302.0h3M560,300.5v3M568.5,298.0h3M570,296.5v3M578.5,290.0h3M580,288.5v3M588.5,274.0h3M590,272.5v3M598.5,294.0h3M600,292.5v3M608.5,307.0h3M610,305.5v3M618.5,299.0h3M620,297.5v3M628.5,285.0h3M630,283.5v3M638.5,237.0h3M640,235.5v3M648.5,245.0h3M650,243.5v3M658.5,229.0h3M660,227.5v3M668.5,219.0h3M670,217.5v3M678.5,229.0h3M680,227.5v3M688.5,240.0h3M690,238.5v3" stroke="#4090C0" stroke-width="1" fill="none"/>
<polyline points="50,590.0 60,590.0 70,590.0 80,590.0 90,590.0 100,589.0 110,590.0 120,590.0 130,590.0 140,590.0 150,590.0 160,590.0 170,590.0 180,590.0 190,590.0 200,590.0 210,590.0 220,590.0 230,590.0 240,587.0 250,590.0 260,590.0 270,589.0 280,586.0 290,589.0 300,590.0 310,590.0 320,590.0 330,589.0 340,590.0 350,590.0 360,590.0 370,590.0 380,590.0 390,589.0 400,588.0 410,590.0 420,588.0 430,590.0 440,589.0 450,590.0 460,590.0 470,588.0 480,590.0 490,589.0 500,585.2 510,588.4 520,590.0 530,588.0 540,581.0 550,587.0 560,590.0 570,590.0 580,586.0 590,572.4 600,586.0 610,590.0 620,590.0 630,590.0 640,590.0 650,590.0 660,590.0 670,590.0 680,590.0 690,590.0" fill="none" stroke="#4090C0" stroke-width="1" />
<path d="M238.5,587h3M240,585.5v3M278.5,586h3M280,584.5v3M398.5,588h3M400,586.5v3M418.5,588h3M420,586.5v3M468.5,588h3M470,586.5v3M498.5,585h3M500,583.5v3M508.5,588h3M510,586.5v3M528.5,588h3M530,586.5v3M538.5,581h3M540,579.5v3M548.5,587h3M550,585.5v3M578.5,586h3M580,584.5v3M588.5,572h3M590,570.5v3M598.5,586h3M600,584.5v3" stroke="#4090C0" stroke-width="1" fill="none"/>
<polyline points="50,261.0 60,255.8 70,243.2 80,253.0 90,256.5 100,261.0 110,250.9 120,261.7 130,271.5 140,273.1 150,259.3 160,256.6 170,267.1 180,268.9 190,259.6 200,260.1 210,268.4 220,263.4 230,262.9 240,253.9 250,258.0 260,243.1 270,243.2 280,257.1 290,250.0 300,270.4 310,271.4 320,252.4 330,279.0 340,300.0 350,322.5 360,323.0 370,322.2 380,313.0 390,291.0 400,296.2 410,307.1 420,282.5 430,264.0 440,261.8 450,263.9 460,260.9 470,280.4 480,282.7 490,295.6 500,272.1 510,269.9 520,289.2 530,293.0 540,288.1 550,281.1 560,301.1 570,296.5 580,288.1 590,289.5 600,294.6 610,306.5 620,279.5 630,274.8 640,292.8 650,275.2 660,279.4 670,252.0 680,279.6 690,274.7" fill="none" stroke="#E8A850" stroke-width="1" />
<path d="M48.5,261.0h3M50,259.5v3M58.5,256.0h3M60,254.5v3M68.5,243.0h3M70,241.5v3M78.5,253.0h3M80,251.5v3M88.5,256.0h3M90,254.5v3M98.5,261.0h3M100,259.5v3M108.5,251.0h3M110,249.5v3M118.5,262.0h3M120,260.5v3M128.5,271.0h3M130,269.5v3M138.5,273.0h3M140,271.5v3M148.5,259.0h3M150,257.5v3M158.5,257.0h3M160,255.5v3M168.5,267.0h3M170,265.5v3M178.5,269.0h3M180,267.5v3M188.5,260.0h3M190,258.5v3M198.5,260.0h3M200,258.5v3M208.5,268.0h3M210,266.5v3M218.5,263.0h3M220,261.5v3M228.5,263.0h3M230,261.5v3M238.5,254.0h3M240,252.5v3M248.5,258.0h3M250,256.5v3M258.5,243.0h3M260,241.5v3M268.5,243.0h3M270,241.5v3M278.5,257.0h3M280,255.5v3M288.5,250.0h3M290,248.5v3M298.5,270.0h3M300,268.5v3M308.5,271.0h3M310,269.5v3M318.5,252.0h3M320,250.5v3M328.5,279.0h3M330,277.5v3M338.5,300.0h3M340,298.5v3M348.5,322.0h3M350,320.5v3M358.5,323.0h3M360,321.5v3M368.5,322.0h3M370,320.5v3M378.5,313.0h3M380,311.5v3M388.5,291.0h3M390,289.5v3M398.5,296.0h3M400,294.5v3M408.5,307.0h3M410,305.5v3M418.5,282.0h3M420,280.5v3M428.5,264.0h3M430,262.5v3M438.5,262.0h3M440,260.5v3M448.5,264.0h3M450,262.5v3M458.5,261.0h3M460,259.5v3M468.5,280.0h3M470,278.5v3M478.5,283.0h3M480,281.5v3M488.5,296.0h3M490,294.5v3M498.5,272.0h3M500,270.5v3M508.5,270.0h3M510,268.5v3M518.5,289.0h3M520,287.5v3M528.5,293.0h3M530,291.5v3M538.5,288.0h3M540,286.5v3M548.5,281.0h3M550,279.5v3M558.5,301.0h3M560,299.5v3M568.5,296.0h3M570,294.5v3M578.5,288.0h3M580,286.5v3M588.5,289.0h3M590,287.5v3M598.5,295.0h3M600,293.5v3M608.5,307.0h3M610,305.5v3M618.5,279.0h3M620,277.5v3M628.5,275.0h3M630,273.5v3M638.5,293.0h3M640,291.5v3M648.5,275.0h3M650,273.5v3M658.5,279.0h3M660,277.5v3M668.5,252.0h3M670,250.5v3M678.5,280.0h3M680,278.5v3M688.5,275.0h3M690,273.5v3" stroke="#E8A850" stroke-width="1" fill="none"/>
<polyline points="50,590.0 60,590.0 70,590.0 80,590.0 90,589.0 100,590.0 110,590.0 120,590.0 130,590.0 140,590.0 150,590.0 160,590.0 170,590.0 180,590.0 190,590.0 200,590.0 210,590.0 220,590.0 230,590.0 240,590.0 250,590.0 260,589.0 270,590.0 280,590.0 290,590.0 300,590.0 310,590.0 320,590.0 330,590.0 340,587.0 350,590.0 360,590.0 370,590.0 380,590.0 390,590.0 400,588.0 410,589.0 420,590.0 430,590.0 440,589.0 450,586.0 460,586.0 470,590.0 480,590.0 490,590.0 500,585.2 510,589.0 520,590.0 530,588.4 540,588.4 550,588.4 560,590.0 570,583.6 580,590.0 590,590.0 600,588.4 610,590.0 620,586.8 630,590.0 640,590.0 650,590.0 660,590.0 670,590.0 680,590.0 690,585.2" fill="none" stroke="#E8A850" stroke-width="1" />
<path d="M338.5,587h3M340,585.5v3M398.5,588h3M400,586.5v3M448.5,586h3M450,584.5v3M458.5,586h3M460,584.5v3M498.5,585h3M500,583.5v3M528.5,588h3M530,586.5v3M538.5,588h3M540,586.5v3M548.5,588h3M550,586.5v3M568.5,584h3M570,582.5v3M598.5,588h3M600,586.5v3M618.5,587h3M620,585.5v3M688.5,585h3M690,583.5v3" stroke="#E8A850" stroke-width="1" fill="none"/>
<polyline points="50,264.1 60,257.4 70,247.3 80,254.5 90,262.4 100,272.0 110,269.0 120,288.0 130,298.0 140,294.5 150,262.5 160,266.3 170,270.4 180,265.3 190,260.3 200,263.1 210,271.5 220,272.5 230,267.0 240,261.8 250,274.5 260,270.3 270,264.3 280,264.3 290,277.0 300,282.1 310,262.2 320,296.0 330,337.3 340,327.4 350,337.0 360,339.7 370,348.6 380,337.8 390,325.9 400,337.3 410,350.1 420,332.6 430,329.6 440,325.9 450,321.4 460,322.0 470,318.0 480,305.0 490,293.8 500,281.5 510,295.1 520,285.0 530,280.0 540,271.9 550,274.4 560,297.9 570,329.7 580,315.0 590,307.5 600,292.0 610,340.8 620,308.0 630,269.2 640,288.0 650,289.8 660,279.1 670,256.7 680,246.7 690,270.4" fill="none" stroke="#605020" stroke-width="1" />
<path d="M48.5,264.0h3M50,262.5v3M58.5,257.0h3M60,255.5v3M68.5,247.0h3M70,245.5v3M78.5,254.0h3M80,252.5v3M88.5,262.0h3M90,260.5v3M98.5,272.0h3M100,270.5v3M108.5,269.0h3M110,267.5v3M118.5,288.0h3M120,286.5v3M128.5,298.0h3M130,296.5v3M138.5,294.0h3M140,292.5v3M148.5,262.0h3M150,260.5v3M158.5,266.0h3M160,264.5v3M168.5,270.0h3M170,268.5v3M178.5,265.0h3M180,263.5v3M188.5,260.0h3M190,258.5v3M198.5,263.0h3M200,261.5v3M208.5,271.0h3M210,269.5v3M218.5,272.0h3M220,270.5v3M228.5,267.0h3M230,265.5v3M238.5,262.0h3M240,260.5v3M248.5,274.0h3M250,272.5v3M258.5,270.0h3M260,268.5v3M268.5,264.0h3M270,262.5v3M278.5,264.0h3M280,262.5v3M288.5,277.0h3M290,275.5v3M298.5,282.0h3M300,280.5v3M308.5,262.0h3M310,260.5v3M318.5,296.0h3M320,294.5v3M328.5,337.0h3M330,335.5v3M338.5,327.0h3M340,325.5v3M348.5,337.0h3M350,335.5v3M358.5,340.0h3M360,338.5v3M368.5,349.0h3M370,347.5v3M378.5,338.0h3M380,336.5v3M388.5,326.0h3M390,324.5v3M398.5,337.0h3M400,335.5v3M408.5,350.0h3M410,348.5v3M418.5,333.0h3M420,331.5v3M428.5,330.0h3M430,328.5v3M438.5,326.0h3M440,324.5v3M448.5,321.0h3M450,319.5v3M458.5,322.0h3M460,320.5v3M468.5,318.0h3M470,316.5v3M478.5,305.0h3M480,303.5v3M488.5,294.0h3M490,292.5v3M498.5,282.0h3M500,280.5v3M508.5,295.0h3M510,293.5v3M518.5,285.0h3M520,283.5v3M528.5,280.0h3M530,278.5v3M538.5,272.0h3M540,270.5v3M548.5,274.0h3M550,272.5v3M558.5,298.0h3M560,296.5v3M568.5,330.0h3M570,328.5v3M578.5,315.0h3M580,313.5v3M588.5,307.0h3M590,305.5v3M598.5,292.0h3M600,290.5v3M608.5,341.0h3M610,339.5v3M618.5,308.0h3M620,306.5v3M628.5,269.0h3M630,267.5v3M638.5,288.0h3M640,286.5v3M648.5,290.0h3M650,288.5v3M658.5,279.0h3M660,277.5v3M668.5,257.0h3M670,255.5v3M678.5,247.0h3M680,245.5v3M688.5,270.0h3M690,268.5v3" stroke="#605020" stroke-width="1" fill="none"/>
<polyline points="50,590.0 60,590.0 70,590.0 80,590.0 90,590.0 100,590.0 110,590.0 120,590.0 130,590.0 140,589.0 150,590.0 160,589.0 170,590.0 180,590.0 190,590.0 200,589.0 210,590.0 220,589.0 230,590.0 240,590.0 250,590.0 260,588.0 270,579.2 280,589.0 290,589.0 300,590.0 310,587.0 320,590.0 330,590.0 340,590.0 350,590.0 360,588.0 370,590.0 380,590.0 390,590.0 400,588.0 410,589.0 420,590.0 430,589.0 440,590.0 450,590.0 460,590.0 470,590.0 480,590.0 490,590.0 500,585.2 510,590.0 520,590.0 530,588.4 540,590.0 550,586.8 560,590.0 570,590.0 580,590.0 590,590.0 600,583.6 610,590.0 620,590.0 630,590.0 640,590.0 650,586.8 660,590.0 670,589.0 680,590.0 690,590.0" fill="none" stroke="#605020" stroke-width="1" />
<path d="M258.5,588h3M260,586.5v3M268.5,579h3M270,577.5v3M308.5,587h3M310,585.5v3M358.5,588h3M360,586.5v3M398.5,588h3M400,586.5v3M498.5,585h3M500,583.5v3M528.5,588h3M530,586.5v3M548.5,587h3M550,585.5v3M598.5,584h3M600,582.5v3M648.5,587h3M650,585.5v3" stroke="#605020" stroke-width="1" fill="none"/>
<polyline points="50,259.1 60,254.9 70,242.1 80,247.0 90,251.4 100,254.4 110,243.0 120,244.7 130,250.0 140,247.0 150,240.0 160,248.0 170,246.0 180,240.0 190,233.0 200,235.5 210,235.5 220,245.0 230,250.0 240,248.5 250,254.8 260,255.2 270,244.2 280,235.1 290,259.7 300,245.6 310,236.9 320,239.9 330,245.0 340,250.0 350,239.4 360,243.0 370,249.0 380,249.0 390,244.6 400,252.8 410,254.3 420,252.0 430,235.7 440,238.0 450,252.0 460,267.6 470,243.0 480,244.6 490,248.3 500,246.0 510,237.0 520,245.0 530,250.0 540,252.0 550,250.0 560,240.0 570,245.0 580,229.3 590,229.3 600,236.3 610,240.7 620,225.9 630,193.2 640,237.2 650,255.0 660,270.0 670,262.0 680,268.0 690,264.0" fill="none" stroke="#F06020" stroke-width="1" />
<path d="M48.5,259.0h3M50,257.5v3M58.5,255.0h3M60,253.5v3M68.5,242.0h3M70,240.5v3M78.5,247.0h3M80,245.5v3M88.5,251.0h3M90,249.5v3M98.5,254.0h3M100,252.5v3M108.5,243.0h3M110,241.5v3M118.5,245.0h3M120,243.5v3M128.5,250.0h3M130,248.5v3M138.5,247.0h3M140,245.5v3M148.5,240.0h3M150,238.5v3M158.5,248.0h3M160,246.5v3M168.5,246.0h3M170,244.5v3M178.5,240.0h3M180,238.5v3M188.5,233.0h3M190,231.5v3M198.5,236.0h3M200,234.5v3M208.5,236.0h3M210,234.5v3M218.5,245.0h3M220,243.5v3M228.5,250.0h3M230,248.5v3M238.5,249.0h3M240,247.5v3M248.5,255.0h3M250,253.5v3M258.5,255.0h3M260,253.5v3M268.5,244.0h3M270,242.5v3M278.5,235.0h3M280,233.5v3M288.5,260.0h3M290,258.5v3M298.5,246.0h3M300,244.5v3M308.5,237.0h3M310,235.5v3M318.5,240.0h3M320,238.5v3M328.5,245.0h3M330,243.5v3M338.5,250.0h3M340,248.5v3M348.5,239.0h3M350,237.5v3M358.5,243.0h3M360,241.5v3M368.5,249.0h3M370,247.5v3M378.5,249.0h3M380,247.5v3M388.5,245.0h3M390,243.5v3M398.5,253.0h3M400,251.5v3M408.5,254.0h3M410,252.5v3M418.5,252.0h3M420,250.5v3M428.5,236.0h3M430,234.5v3M438.5,238.0h3M440,236.5v3M448.5,252.0h3M450,250.5v3M458.5,268.0h3M460,266.5v3M468.5,243.0h3M470,241.5v3M478.5,245.0h3M480,243.5v3M488.5,248.0h3M490,246.5v3M498.5,246.0h3M500,244.5v3M508.5,237.0h3M510,235.5v3M518.5,245.0h3M520,243.5v3M528.5,250.0h3M530,248.5v3M538.5,252.0h3M540,250.5v3M548.5,250.0h3M550,248.5v3M558.5,240.0h3M560,238.5v3M568.5,245.0h3M570,243.5v3M578.5,229.0h3M580,227.5v3M588.5,229.0h3M590,227.5v3M598.5,236.0h3M600,234.5v3M608.5,241.0h3M610,239.5v3M618.5,226.0h3M620,224.5v3M628.5,193.0h3M630,191.5v3M638.5,237.0h3M640,235.5v3M648.5,255.0h3M650,253.5v3M658.5,270.0h3M660,268.5v3M668.5,262.0h3M670,260.5v3M678.5,268.0h3M680,266.5v3M688.5,264.0h3M690,262.5v3" stroke="#F06020" stroke-width="1" fill="none"/>
<polyline points="50,590.0 60,590.0 70,590.0 80,590.0 90,590.0 100,590.0 110,590.0 120,590.0 130,590.0 140,590.0 150,590.0 160,590.0 170,590.0 180,590.0 190,590.0 200,590.0 210,589.0 220,590.0 230,590.0 240,588.0 250,586.0 260,590.0 270,589.0 280,590.0 290,590.0 300,574.0 310,586.0 320,589.0 330,589.0 340,586.0 350,574.1 360,587.0 370,590.0 380,587.0 390,590.0 400,588.0 410,590.0 420,588.0 430,590.0 440,590.0 450,589.0 460,590.0 470,589.0 480,589.0 490,590.0 500,590.0 510,590.0 520,583.6 530,590.0 540,590.0 550,589.0 560,590.0 570,590.0 580,590.0 590,590.0 600,590.0 610,590.0 620,588.0 630,577.2 640,588.0 650,590.0 660,586.8 670,590.0 680,587.0 690,581.0" fill="none" stroke="#F06020" stroke-width="1" />
<path d="M238.5,588h3M240,586.5v3M248.5,586h3M250,584.5v3M298.5,574h3M300,572.5v3M308.5,586h3M310,584.5v3M338.5,586h3M340,584.5v3M348.5,574h3M350,572.5v3M358.5,587h3M360,585.5v3M378.5,587h3M380,585.5v3M398.5,588h3M400,586.5v3M418.5,588h3M420,586.5v3M518.5,584h3M520,582.5v3M618.5,588h3M620,586.5v3M628.5,577h3M630,575.5v3M638.5,588h3M640,586.5v3M658.5,587h3M660,585.5v3M678.5,587h3M680,585.5v3M688.5,581h3M690,579.5v3" stroke="#F06020" stroke-width="1" fill="none"/>
<polyline points="50,264.2 60,258.3 70,246.5 80,254.3 90,259.3 100,262.0 110,251.7 120,258.5 130,267.3 140,254.0 150,248.5 160,251.6 170,257.6 180,251.2 190,250.8 200,251.8 210,258.2 220,267.2 230,263.1 240,267.4 250,266.1 260,246.2 270,247.5 280,254.1 290,271.7 300,274.3 310,267.7 320,260.7 330,282.7 340,284.4 350,290.6 360,289.4 370,268.7 380,261.8 390,288.7 400,299.9 410,292.7 420,292.1 430,282.8 440,279.4 450,298.9 460,292.2 470,308.9 480,292.6 490,309.1 500,313.0 510,300.6 520,311.8 530,312.7 540,298.8 550,293.5 560,286.6 570,280.4 580,290.0 590,299.7 600,307.6 610,290.1 620,266.1 630,266.3 640,282.7 650,266.3 660,251.5 670,211.0 680,257.9 690,271.4" fill="none" stroke="#D0C070" stroke-width="1" />
<path d="M48.5,264.0h3M50,262.5v3M58.5,258.0h3M60,256.5v3M68.5,247.0h3M70,245.5v3M78.5,254.0h3M80,252.5v3M88.5,259.0h3M90,257.5v3M98.5,262.0h3M100,260.5v3M108.5,252.0h3M110,250.5v3M118.5,258.0h3M120,256.5v3M128.5,267.0h3M130,265.5v3M138.5,254.0h3M140,252.5v3M148.5,249.0h3M150,247.5v3M158.5,252.0h3M160,250.5v3M168.5,258.0h3M170,256.5v3M178.5,251.0h3M180,249.5v3M188.5,251.0h3M190,249.5v3M198.5,252.0h3M200,250.5v3M208.5,258.0h3M210,256.5v3M218.5,267.0h3M220,265.5v3M228.5,263.0h3M230,261.5v3M238.5,267.0h3M240,265.5v3M248.5,266.0h3M250,264.5v3M258.5,246.0h3M260,244.5v3M268.5,247.0h3M270,245.5v3M278.5,254.0h3M280,252.5v3M288.5,272.0h3M290,270.5v3M298.5,274.0h3M300,272.5v3M308.5,268.0h3M310,266.5v3M318.5,261.0h3M320,259.5v3M328.5,283.0h3M330,281.5v3M338.5,284.0h3M340,282.5v3M348.5,291.0h3M350,289.5v3M358.5,289.0h3M360,287.5v3M368.5,269.0h3M370,267.5v3M378.5,262.0h3M380,260.5v3M388.5,289.0h3M390,287.5v3M398.5,300.0h3M400,298.5v3M408.5,293.0h3M410,291.5v3M418.5,292.0h3M420,290.5v3M428.5,283.0h3M430,281.5v3M438.5,279.0h3M440,277.5v3M448.5,299.0h3M450,297.5v3M458.5,292.0h3M460,290.5v3M468.5,309.0h3M470,307.5v3M478.5,293.0h3M480,291.5v3M488.5,309.0h3M490,307.5v3M498.5,313.0h3M500,311.5v3M508.5,301.0h3M510,299.5v3M518.5,312.0h3M520,310.5v3M528.5,313.0h3M530,311.5v3M538.5,299.0h3M540,297.5v3M548.5,294.0h3M550,292.5v3M558.5,287.0h3M560,285.5v3M568.5,280.0h3M570,278.5v3M578.5,290.0h3M580,288.5v3M588.5,300.0h3M590,298.5v3M598.5,308.0h3M600,306.5v3M608.5,290.0h3M610,288.5v3M618.5,266.0h3M620,264.5v3M628.5,266.0h3M630,264.5v3M638.5,283.0h3M640,281.5v3M648.5,266.0h3M650,264.5v3M658.5,252.0h3M660,250.5v3M668.5,211.0h3M670,209.5v3M678.5,258.0h3M680,256.5v3M688.5,271.0h3M690,269.5v3" stroke="#D0C070" stroke-width="1" fill="none"/>
<polyline points="50,590.0 60,590.0 70,590.0 80,590.0 90,590.0 100,589.0 110,590.0 120,590.0 130,590.0 140,590.0 150,590.0 160,590.0 170,590.0 180,590.0 190,590.0 200,590.0 210,590.0 220,590.0 230,590.0 240,590.0 250,590.0 260,590.0 270,587.0 280,589.0 290,590.0 300,588.0 310,590.0 320,590.0 330,590.0 340,590.0 350,590.0 360,588.0 370,590.0 380,590.0 390,590.0 400,586.0 410,590.0 420,590.0 430,590.0 440,589.0 450,590.0 460,590.0 470,590.0 480,590.0 490,589.0 500,590.0 510,590.0 520,590.0 530,590.0 540,588.4 550,590.0 560,585.2 570,588.4 580,590.0 590,590.0 600,588.4 610,590.0 620,590.0 630,590.0 640,590.0 650,585.2 660,590.0 670,590.0 680,590.0 690,590.0" fill="none" stroke="#D0C070" stroke-width="1" />
<path d="M268.5,587h3M270,585.5v3M298.5,588h3M300,586.5v3M358.5,588h3M360,586.5v3M398.5,586h3M400,584.5v3M538.5,588h3M540,586.5v3M558.5,585h3M560,583.5v3M568.5,588h3M570,586.5v3M598.5,588h3M600,586.5v3M648.5,585h3M650,583.5v3" stroke="#D0C070" stroke-width="1" fill="none"/>
<polyline points="50,259.3 60,255.8 70,243.8 80,253.9 90,259.4 100,263.1 110,249.5 120,251.7 130,258.3 140,247.9 150,240.1 160,253.9 170,254.6 180,250.0 190,253.4 200,264.8 210,257.4 220,254.7 230,237.7 240,243.0 250,256.4 260,248.7 270,229.0 280,235.2 290,241.1 300,249.6 310,246.5 320,265.2 330,251.6 340,272.3 350,252.1 360,269.6 370,268.8 380,274.2 390,277.1 400,277.9 410,292.0 420,297.2 430,284.5 440,274.9 450,269.3 460,258.8 470,255.2 480,261.0 490,257.0 500,254.3 510,247.3 520,229.7 530,225.3 540,232.0 550,233.3 560,239.0 570,251.9 580,255.0 590,234.0 600,251.9 610,259.3 620,268.0 630,266.8 640,267.5 650,256.6 660,246.9 670,243.2 680,240.2 690,234.7" fill="none" stroke="#00D050" stroke-width="1" />
<path d="M48.5,259.0h3M50,257.5v3M58.5,256.0h3M60,254.5v3M68.5,244.0h3M70,242.5v3M78.5,254.0h3M80,252.5v3M88.5,259.0h3M90,257.5v3M98.5,263.0h3M100,261.5v3M108.5,249.0h3M110,247.5v3M118.5,252.0h3M120,250.5v3M128.5,258.0h3M130,256.5v3M138.5,248.0h3M140,246.5v3M148.5,240.0h3M150,238.5v3M158.5,254.0h3M160,252.5v3M168.5,255.0h3M170,253.5v3M178.5,250.0h3M180,248.5v3M188.5,253.0h3M190,251.5v3M198.5,265.0h3M200,263.5v3M208.5,257.0h3M210,255.5v3M218.5,255.0h3M220,253.5v3M228.5,238.0h3M230,236.5v3M238.5,243.0h3M240,241.5v3M248.5,256.0h3M250,254.5v3M258.5,249.0h3M260,247.5v3M268.5,229.0h3M270,227.5v3M278.5,235.0h3M280,233.5v3M288.5,241.0h3M290,239.5v3M298.5,250.0h3M300,248.5v3M308.5,247.0h3M310,245.5v3M318.5,265.0h3M320,263.5v3M328.5,252.0h3M330,250.5v3M338.5,272.0h3M340,270.5v3M348.5,252.0h3M350,250.5v3M358.5,270.0h3M360,268.5v3M368.5,269.0h3M370,267.5v3M378.5,274.0h3M380,272.5v3M388.5,277.0h3M390,275.5v3M398.5,278.0h3M400,276.5v3M408.5,292.0h3M410,290.5v3M418.5,297.0h3M420,295.5v3M428.5,284.0h3M430,282.5v3M438.5,275.0h3M440,273.5v3M448.5,269.0h3M450,267.5v3M458.5,259.0h3M460,257.5v3M468.5,255.0h3M470,253.5v3M478.5,261.0h3M480,259.5v3M488.5,257.0h3M490,255.5v3M498.5,254.0h3M500,252.5v3M508.5,247.0h3M510,245.5v3M518.5,230.0h3M520,228.5v3M528.5,225.0h3M530,223.5v3M538.5,232.0h3M540,230.5v3M548.5,233.0h3M550,231.5v3M558.5,239.0h3M560,237.5v3M568.5,252.0h3M570,250.5v3M578.5,255.0h3M580,253.5v3M588.5,234.0h3M590,232.5v3M598.5,252.0h3M600,250.5v3M608.5,259.0h3M610,257.5v3M618.5,268.0h3M620,266.5v3M628.5,267.0h3M630,265.5v3M638.5,268.0h3M640,266.5v3M648.5,257.0h3M650,255.5v3M658.5,247.0h3M660,245.5v3M668.5,243.0h3M670,241.5v3M678.5,240.0h3M680,238.5v3M688.5,235.0h3M690,233.5v3" stroke="#00D050" stroke-width="1" fill="none"/>
<polyline points="50,590.0 60,590.0 70,590.0 80,590.0 90,590.0 100,590.0 110,590.0 120,590.0 130,590.0 140,590.0 150,583.6 160,590.0 170,590.0 180,590.0 190,590.0 200,590.0 210,590.0 220,590.0 230,590.0 240,590.0 250,588.0 260,590.0 270,590.0 280,588.0 290,590.0 300,586.0 310,587.0 320,590.0 330,590.0 340,590.0 350,590.0 360,588.0 370,589.0 380,590.0 390,590.0 400,587.0 410,590.0 420,590.0 430,590.0 440,589.0 450,590.0 460,586.0 470,590.0 480,590.0 490,590.0 500,590.0 510,588.4 520,590.0 530,585.2 540,588.4 550,586.8 560,590.0 570,586.8 580,589.0 590,590.0 600,590.0 610,590.0 620,586.8 630,588.4 640,590.0 650,588.4 660,590.0 670,590.0 680,589.0 690,588.4" fill="none" stroke="#00D050" stroke-width="1" />
<path d="M148.5,584h3M150,582.5v3M248.5,588h3M250,586.5v3M278.5,588h3M280,586.5v3M298.5,586h3M300,584.5v3M308.5,587h3M310,585.5v3M358.5,588h3M360,586.5v3M398.5,587h3M400,585.5v3M458.5,586h3M460,584.5v3M508.5,588h3M510,586.5v3M528.5,585h3M530,583.5v3M538.5,588h3M540,586.5v3M548.5,587h3M550,585.5v3M568.5,587h3M570,585.5v3M618.5,587h3M620,585.5v3M628.5,588h3M630,586.5v3M648.5,588h3M650,586.5v3M688.5,588h3M690,586.5v3" stroke="#00D050" stroke-width="1" fill="none"/>
<polyline points="50,258.5 60,255.7 70,244.2 80,252.3 90,255.6 100,258.8 110,249.2 120,259.0 130,259.7 140,259.7 150,247.8 160,254.3 170,256.4 180,253.6 190,248.9 200,258.0 210,251.6 220,264.2 230,271.1 240,272.4 250,277.3 260,263.8 270,250.7 280,246.7 290,238.6 300,237.4 310,241.1 320,259.3 330,236.1 340,272.9 350,282.3 360,279.6 370,294.4 380,280.6 390,281.3 400,285.1 410,279.6 420,261.5 430,258.3 440,263.0 450,243.0 460,232.0 470,219.3 480,234.5 490,252.0 500,265.0 510,261.0 520,265.4 530,267.6 540,268.4 550,261.0 560,258.0 570,262.0 580,258.0 590,252.0 600,245.2 610,252.6 620,245.2 630,210.3 640,212.0 650,219.0 660,207.5 670,219.4 680,232.0 690,245.4" fill="none" stroke="#204060" stroke-width="1" />
<path d="M48.5,258.0h3M50,256.5v3M58.5,256.0h3M60,254.5v3M68.5,244.0h3M70,242.5v3M78.5,252.0h3M80,250.5v3M88.5,256.0h3M90,254.5v3M98.5,259.0h3M100,257.5v3M108.5,249.0h3M110,247.5v3M118.5,259.0h3M120,257.5v3M128.5,260.0h3M130,258.5v3M138.5,260.0h3M140,258.5v3M148.5,248.0h3M150,246.5v3M158.5,254.0h3M160,252.5v3M168.5,256.0h3M170,254.5v3M178.5,254.0h3M180,252.5v3M188.5,249.0h3M190,247.5v3M198.5,258.0h3M200,256.5v3M208.5,252.0h3M210,250.5v3M218.5,264.0h3M220,262.5v3M228.5,271.0h3M230,269.5v3M238.5,272.0h3M240,270.5v3M248.5,277.0h3M250,275.5v3M258.5,264.0h3M260,262.5v3M268.5,251.0h3M270,249.5v3M278.5,247.0h3M280,245.5v3M288.5,239.0h3M290,237.5v3M298.5,237.0h3M300,235.5v3M308.5,241.0h3M310,239.5v3M318.5,259.0h3M320,257.5v3M328.5,236.0h3M330,234.5v3M338.5,273.0h3M340,271.5v3M348.5,282.0h3M350,280.5v3M358.5,280.0h3M360,278.5v3M368.5,294.0h3M370,292.5v3M378.5,281.0h3M380,279.5v3M388.5,281.0h3M390,279.5v3M398.5,285.0h3M400,283.5v3M408.5,280.0h3M410,278.5v3M418.5,261.0h3M420,259.5v3M428.5,258.0h3M430,256.5v3M438.5,263.0h3M440,261.5v3M448.5,243.0h3M450,241.5v3M458.5,232.0h3M460,230.5v3M468.5,219.0h3M470,217.5v3M478.5,234.0h3M480,232.5v3M488.5,252.0h3M490,250.5v3M498.5,265.0h3M500,263.5v3M508.5,261.0h3M510,259.5v3M518.5,265.0h3M520,263.5v3M528.5,268.0h3M530,266.5v3M538.5,268.0h3M540,266.5v3M548.5,261.0h3M550,259.5v3M558.5,258.0h3M560,256.5v3M568.5,262.0h3M570,260.5v3M578.5,258.0h3M580,256.5v3M588.5,252.0h3M590,250.5v3M598.5,245.0h3M600,243.5v3M608.5,253.0h3M610,251.5v3M618.5,245.0h3M620,243.5v3M628.5,210.0h3M630,208.5v3M638.5,212.0h3M640,210.5v3M648.5,219.0h3M650,217.5v3M658.5,208.0h3M660,206.5v3M668.5,219.0h3M670,217.5v3M678.5,232.0h3M680,230.5v3M688.5,245.0h3M690,243.5v3" stroke="#204060" stroke-width="1" fill="none"/>
<polyline points="50,590.0 60,590.0 70,590.0 80,590.0 90,590.0 100,590.0 110,590.0 120,590.0 130,590.0 140,590.0 150,590.0 160,590.0 170,589.0 180,590.0 190,589.0 200,590.0 210,590.0 220,590.0 230,590.0 240,587.0 250,589.0 260,590.0 270,590.0 280,590.0 290,587.0 300,590.0 310,590.0 320,590.0 330,587.0 340,590.0 350,590.0 360,590.0 370,590.0 380,590.0 390,588.0 400,590.0 410,590.0 420,589.0 430,590.0 440,590.0 450,590.0 460,590.0 470,590.0 480,590.0 490,590.0 500,590.0 510,588.4 520,590.0 530,586.8 540,590.0 550,586.8 560,590.0 570,590.0 580,590.0 590,590.0 600,590.0 610,590.0 620,589.0 630,586.8 640,590.0 650,590.0 660,589.0 670,590.0 680,590.0 690,590.0" fill="none" stroke="#204060" stroke-width="1" />
<path d="M238.5,587h3M240,585.5v3M288.5,587h3M290,585.5v3M328.5,587h3M330,585.5v3M388.5,588h3M390,586.5v3M508.5,588h3M510,586.5v3M528.5,587h3M530,585.5v3M548.5,587h3M550,585.5v3M628.5,587h3M630,585.5v3" stroke="#204060" stroke-width="1" fill="none"/>
<polyline points="50,262.3 60,252.0 70,238.5 80,249.0 90,257.6 100,258.3 110,250.4 120,259.7 130,263.3 140,255.4 150,254.9 160,250.8 170,252.8 180,256.5 190,264.5 200,277.0 210,287.0 220,284.5 230,277.4 240,280.8 250,276.4 260,258.2 270,234.6 280,246.3 290,257.5 300,238.0 310,252.9 320,245.6 330,273.3 340,271.1 350,298.8 360,288.9 370,290.4 380,298.5 390,278.0 400,276.4 410,280.5 420,278.5 430,273.6 440,281.7 450,301.2 460,293.1 470,301.4 480,293.7 490,304.5 500,296.1 510,291.7 520,260.0 530,283.1 540,278.3 550,267.3 560,272.2 570,270.4 580,267.6 590,243.3 600,247.2 610,266.4 620,252.5 630,229.2 640,262.4 650,280.6 660,272.1 670,248.2 680,279.2 690,282.7" fill="none" stroke="#687078" stroke-width="1" />
<path d="M48.5,262.0h3M50,260.5v3M58.5,252.0h3M60,250.5v3M68.5,238.0h3M70,236.5v3M78.5,249.0h3M80,247.5v3M88.5,258.0h3M90,256.5v3M98.5,258.0h3M100,256.5v3M108.5,250.0h3M110,248.5v3M118.5,260.0h3M120,258.5v3M128.5,263.0h3M130,261.5v3M138.5,255.0h3M140,253.5v3M148.5,255.0h3M150,253.5v3M158.5,251.0h3M160,249.5v3M168.5,253.0h3M170,251.5v3M178.5,257.0h3M180,255.5v3M188.5,264.0h3M190,262.5v3M198.5,277.0h3M200,275.5v3M208.5,287.0h3M210,285.5v3M218.5,284.0h3M220,282.5v3M228.5,277.0h3M230,275.5v3M238.5,281.0h3M240,279.5v3M248.5,276.0h3M250,274.5v3M258.5,258.0h3M260,256.5v3M268.5,235.0h3M270,233.5v3M278.5,246.0h3M280,244.5v3M288.5,258.0h3M290,256.5v3M298.5,238.0h3M300,236.5v3M308.5,253.0h3M310,251.5v3M318.5,246.0h3M320,244.5v3M328.5,273.0h3M330,271.5v3M338.5,271.0h3M340,269.5v3M348.5,299.0h3M350,297.5v3M358.5,289.0h3M360,287.5v3M368.5,290.0h3M370,288.5v3M378.5,298.0h3M380,296.5v3M388.5,278.0h3M390,276.5v3M398.5,276.0h3M400,274.5v3M408.5,280.0h3M410,278.5v3M418.5,278.0h3M420,276.5v3M428.5,274.0h3M430,272.5v3M438.5,282.0h3M440,280.5v3M448.5,301.0h3M450,299.5v3M458.5,293.0h3M460,291.5v3M468.5,301.0h3M470,299.5v3M478.5,294.0h3M480,292.5v3M488.5,305.0h3M490,303.5v3M498.5,296.0h3M500,294.5v3M508.5,292.0h3M510,290.5v3M518.5,260.0h3M520,258.5v3M528.5,283.0h3M530,281.5v3M538.5,278.0h3M540,276.5v3M548.5,267.0h3M550,265.5v3M558.5,272.0h3M560,270.5v3M568.5,270.0h3M570,268.5v3M578.5,268.0h3M580,266.5v3M588.5,243.0h3M590,241.5v3M598.5,247.0h3M600,245.5v3M608.5,266.0h3M610,264.5v3M618.5,253.0h3M620,251.5v3M628.5,229.0h3M630,227.5v3M638.5,262.0h3M640,260.5v3M648.5,281.0h3M650,279.5v3M658.5,272.0h3M660,270.5v3M668.5,248.0h3M670,246.5v3M678.5,279.0h3M680,277.5v3M688.5,283.0h3M690,281.5v3" stroke="#687078" stroke-width="1" fill="none"/>
<polyline points="50,590.0 60,590.0 70,589.0 80,590.0 90,590.0 100,590.0 110,590.0 120,589.0 130,590.0 140,590.0 150,589.0 160,590.0 170,590.0 180,590.0 190,590.0 200,590.0 210,590.0 220,590.0 230,590.0 240,590.0 250,588.0 260,590.0 270,589.0 280,590.0 290,590.0 300,588.0 310,587.0 320,587.0 330,590.0 340,590.0 350,590.0 360,590.0 370,590.0 380,590.0 390,590.0 400,590.0 410,590.0 420,588.0 430,590.0 440,590.0 450,587.0 460,588.0 470,590.0 480,590.0 490,590.0 500,590.0 510,590.0 520,590.0 530,588.4 540,590.0 550,590.0 560,590.0 570,590.0 580,590.0 590,589.0 600,590.0 610,590.0 620,590.0 630,590.0 640,588.4 650,590.0 660,590.0 670,590.0 680,586.8 690,590.0" fill="none" stroke="#687078" stroke-width="1" />
<path d="M248.5,588h3M250,586.5v3M298.5,588h3M300,586.5v3M308.5,587h3M310,585.5v3M318.5,587h3M320,585.5v3M418.5,588h3M420,586.5v3M448.5,587h3M450,585.5v3M458.5,588h3M460,586.5v3M528.5,588h3M530,586.5v3M638.5,588h3M640,586.5v3M678.5,587h3M680,585.5v3" stroke="#687078" stroke-width="1" fill="none"/>
<polyline points="50,263.3 60,258.5 70,248.1 80,254.1 90,261.2 100,264.5 110,258.0 120,274.5 130,290.0 140,285.0 150,277.6 160,269.2 170,262.0 180,250.6 190,248.0 200,255.4 210,251.4 220,262.5 230,252.2 240,262.5 250,257.7 260,262.7 270,249.0 280,254.2 290,268.4 300,304.3 310,301.4 320,308.8 330,312.5 340,305.8 350,301.0 360,310.3 370,319.2 380,312.5 390,317.0 400,320.0 410,318.4 420,307.0 430,300.0 440,299.3 450,272.6 460,295.6 470,290.0 480,287.9 490,289.3 500,284.7 510,304.7 520,274.2 530,246.8 540,253.9 550,246.6 560,268.2 570,279.0 580,271.1 590,263.0 600,293.9 610,282.5 620,293.0 630,280.7 640,273.3 650,292.5 660,293.3 670,268.6 680,283.3 690,259.3" fill="none" stroke="#E080F8" stroke-width="1" />
<path d="M48.5,263.0h3M50,261.5v3M58.5,259.0h3M60,257.5v3M68.5,248.0h3M70,246.5v3M78.5,254.0h3M80,252.5v3M88.5,261.0h3M90,259.5v3M98.5,265.0h3M100,263.5v3M108.5,258.0h3M110,256.5v3M118.5,274.0h3M120,272.5v3M128.5,290.0h3M130,288.5v3M138.5,285.0h3M140,283.5v3M148.5,278.0h3M150,276.5v3M158.5,269.0h3M160,267.5v3M168.5,262.0h3M170,260.5v3M178.5,251.0h3M180,249.5v3M188.5,248.0h3M190,246.5v3M198.5,255.0h3M200,253.5v3M208.5,251.0h3M210,249.5v3M218.5,262.0h3M220,260.5v3M228.5,252.0h3M230,250.5v3M238.5,262.0h3M240,260.5v3M248.5,258.0h3M250,256.5v3M258.5,263.0h3M260,261.5v3M268.5,249.0h3M270,247.5v3M278.5,254.0h3M280,252.5v3M288.5,268.0h3M290,266.5v3M298.5,304.0h3M300,302.5v3M308.5,301.0h3M310,299.5v3M318.5,309.0h3M320,307.5v3M328.5,312.0h3M330,310.5v3M338.5,306.0h3M340,304.5v3M348.5,301.0h3M350,299.5v3M358.5,310.0h3M360,308.5v3M368.5,319.0h3M370,317.5v3M378.5,312.0h3M380,310.5v3M388.5,317.0h3M390,315.5v3M398.5,320.0h3M400,318.5v3M408.5,318.0h3M410,316.5v3M418.5,307.0h3M420,305.5v3M428.5,300.0h3M430,298.5v3M438.5,299.0h3M440,297.5v3M448.5,273.0h3M450,271.5v3M458.5,296.0h3M460,294.5v3M468.5,290.0h3M470,288.5v3M478.5,288.0h3M480,286.5v3M488.5,289.0h3M490,287.5v3M498.5,285.0h3M500,283.5v3M508.5,305.0h3M510,303.5v3M518.5,274.0h3M520,272.5v3M528.5,247.0h3M530,245.5v3M538.5,254.0h3M540,252.5v3M548.5,247.0h3M550,245.5v3M558.5,268.0h3M560,266.5v3M568.5,279.0h3M570,277.5v3M578.5,271.0h3M580,269.5v3M588.5,263.0h3M590,261.5v3M598.5,294.0h3M600,292.5v3M608.5,283.0h3M610,281.5v3M618.5,293.0h3M620,291.5v3M628.5,281.0h3M630,279.5v3M638.5,273.0h3M640,271.5v3M648.5,292.0h3M650,290.5v3M658.5,293.0h3M660,291.5v3M668.5,269.0h3M670,267.5v3M678.5,283.0h3M680,281.5v3M688.5,259.0h3M690,257.5v3" stroke="#E080F8" stroke-width="1" fill="none"/>
<polyline points="50,590.0 60,590.0 70,589.0 80,590.0 90,590.0 100,590.0 110,590.0 120,590.0 130,590.0 140,590.0 150,590.0 160,590.0 170,590.0 180,590.0 190,590.0 200,590.0 210,590.0 220,590.0 230,590.0 240,590.0 250,590.0 260,587.0 270,590.0 280,589.0 290,590.0 300,590.0 310,590.0 320,590.0 330,590.0 340,588.0 350,588.0 360,590.0 370,589.0 380,585.0 390,590.0 400,590.0 410,589.0 420,583.6 430,579.2 440,586.0 450,587.0 460,581.3 470,580.0 480,585.0 490,588.0 500,589.0 510,590.0 520,589.0 530,590.0 540,590.0 550,585.2 560,590.0 570,585.2 580,590.0 590,590.0 600,586.8 610,590.0 620,590.0 630,590.0 640,590.0 650,590.0 660,590.0 670,590.0 680,590.0 690,590.0" fill="none" stroke="#E080F8" stroke-width="1" />
<path d="M258.5,587h3M260,585.5v3M338.5,588h3M340,586.5v3M348.5,588h3M350,586.5v3M378.5,585h3M380,583.5v3M418.5,584h3M420,582.5v3M428.5,579h3M430,577.5v3M438.5,586h3M440,584.5v3M448.5,587h3M450,585.5v3M458.5,581h3M460,579.5v3M468.5,580h3M470,578.5v3M478.5,585h3M480,583.5v3M488.5,588h3M490,586.5v3M548.5,585h3M550,583.5v3M568.5,585h3M570,583.5v3M598.5,587h3M600,585.5v3" stroke="#E080F8" stroke-width="1" fill="none"/>
<polyline points="50,271.0 60,270.0 70,256.6 80,268.0 90,274.5 100,277.4 110,273.7 120,284.0 130,276.0 140,264.0 150,269.9 160,270.2 170,259.3 180,255.4 190,249.3 200,262.5 210,264.3 220,267.3 230,232.5 240,227.6 250,232.5 260,233.0 270,240.0 280,262.0 290,295.4 300,299.9 310,285.0 320,295.0 330,303.0 340,300.0 350,307.0 360,303.0 370,295.4 380,305.0 390,300.0 400,308.0 410,300.0 420,310.0 430,297.0 440,315.0 450,327.0 460,330.6 470,324.0 480,330.7 490,352.3 500,342.6 510,325.5 520,328.5 530,338.2 540,346.4 550,340.3 560,340.5 570,338.6 580,323.0 590,317.0 600,317.3 610,326.0 620,323.7 630,322.0 640,331.0 650,333.8 660,324.7 670,327.6 680,332.8 690,323.2" fill="none" stroke="#8020F0" stroke-width="1" />
<path d="M48.5,271.0h3M50,269.5v3M58.5,270.0h3M60,268.5v3M68.5,257.0h3M70,255.5v3M78.5,268.0h3M80,266.5v3M88.5,274.0h3M90,272.5v3M98.5,277.0h3M100,275.5v3M108.5,274.0h3M110,272.5v3M118.5,284.0h3M120,282.5v3M128.5,276.0h3M130,274.5v3M138.5,264.0h3M140,262.5v3M148.5,270.0h3M150,268.5v3M158.5,270.0h3M160,268.5v3M168.5,259.0h3M170,257.5v3M178.5,255.0h3M180,253.5v3M188.5,249.0h3M190,247.5v3M198.5,262.0h3M200,260.5v3M208.5,264.0h3M210,262.5v3M218.5,267.0h3M220,265.5v3M228.5,232.0h3M230,230.5v3M238.5,228.0h3M240,226.5v3M248.5,232.0h3M250,230.5v3M258.5,233.0h3M260,231.5v3M268.5,240.0h3M270,238.5v3M278.5,262.0h3M280,260.5v3M288.5,295.0h3M290,293.5v3M298.5,300.0h3M300,298.5v3M308.5,285.0h3M310,283.5v3M318.5,295.0h3M320,293.5v3M328.5,303.0h3M330,301.5v3M338.5,300.0h3M340,298.5v3M348.5,307.0h3M350,305.5v3M358.5,303.0h3M360,301.5v3M368.5,295.0h3M370,293.5v3M378.5,305.0h3M380,303.5v3M388.5,300.0h3M390,298.5v3M398.5,308.0h3M400,306.5v3M408.5,300.0h3M410,298.5v3M418.5,310.0h3M420,308.5v3M428.5,297.0h3M430,295.5v3M438.5,315.0h3M440,313.5v3M448.5,327.0h3M450,325.5v3M458.5,331.0h3M460,329.5v3M468.5,324.0h3M470,322.5v3M478.5,331.0h3M480,329.5v3M488.5,352.0h3M490,350.5v3M498.5,343.0h3M500,341.5v3M508.5,326.0h3M510,324.5v3M518.5,328.0h3M520,326.5v3M528.5,338.0h3M530,336.5v3M538.5,346.0h3M540,344.5v3M548.5,340.0h3M550,338.5v3M558.5,340.0h3M560,338.5v3M568.5,339.0h3M570,337.5v3M578.5,323.0h3M580,321.5v3M588.5,317.0h3M590,315.5v3M598.5,317.0h3M600,315.5v3M608.5,326.0h3M610,324.5v3M618.5,324.0h3M620,322.5v3M628.5,322.0h3M630,320.5v3M638.5,331.0h3M640,329.5v3M648.5,334.0h3M650,332.5v3M658.5,325.0h3M660,323.5v3M668.5,328.0h3M670,326.5v3M678.5,333.0h3M680,331.5v3M688.5,323.0h3M690,321.5v3" stroke="#8020F0" stroke-width="1" fill="none"/>
<polyline points="50,590.0 60,590.0 70,590.0 80,590.0 90,590.0 100,589.0 110,590.0 120,590.0 130,590.0 140,590.0 150,571.2 160,590.0 170,590.0 180,583.0 190,590.0 200,590.0 210,590.0 220,590.0 230,590.0 240,589.0 250,590.0 260,590.0 270,590.0 280,590.0 290,589.0 300,588.0 310,589.0 320,589.0 330,590.0 340,590.0 350,590.0 360,589.0 370,590.0 380,586.0 390,590.0 400,590.0 410,590.0 420,590.0 430,590.0 440,587.0 450,590.0 460,590.0 470,590.0 480,590.0 490,590.0 500,585.2 510,583.6 520,583.6 530,589.0 540,590.0 550,590.0 560,590.0 570,589.0 580,590.0 590,583.6 600,585.2 610,590.0 620,589.0 630,590.0 640,586.8 650,590.0 660,590.0 670,590.0 680,590.0 690,590.0" fill="none" stroke="#8020F0" stroke-width="1" />
<path d="M148.5,571h3M150,569.5v3M178.5,583h3M180,581.5v3M298.5,588h3M300,586.5v3M378.5,586h3M380,584.5v3M438.5,587h3M440,585.5v3M498.5,585h3M500,583.5v3M508.5,584h3M510,582.5v3M518.5,584h3M520,582.5v3M588.5,584h3M590,582.5v3M598.5,585h3M600,583.5v3M638.5,587h3M640,585.5v3" stroke="#8020F0" stroke-width="1" fill="none"/>
<polyline points="50,260.0 60,255.8 70,248.1 80,258.0 90,260.6 100,258.8 110,249.9 120,254.7 130,261.3 140,256.7 150,245.5 160,255.0 170,260.1 180,255.4 190,250.8 200,254.5 210,257.1 220,252.0 230,252.8 240,252.1 250,248.3 260,247.7 270,244.4 280,239.6 290,253.4 300,241.0 310,244.9 320,252.6 330,269.1 340,257.6 350,260.1 360,276.4 370,296.5 380,296.2 390,255.0 400,241.6 410,232.0 420,219.3 430,217.1 440,227.5 450,239.0 460,250.0 470,256.9 480,268.9 490,292.6 500,280.4 510,287.5 520,285.9 530,278.9 540,259.4 550,246.1 560,252.8 570,279.1 580,286.1 590,264.5 600,273.9 610,287.4 620,273.7 630,262.9 640,290.0 650,303.0 660,320.2 670,332.0 680,336.6 690,336.6" fill="none" stroke="#806028" stroke-width="1" />
<path d="M48.5,260.0h3M50,258.5v3M58.5,256.0h3M60,254.5v3M68.5,248.0h3M70,246.5v3M78.5,258.0h3M80,256.5v3M88.5,261.0h3M90,259.5v3M98.5,259.0h3M100,257.5v3M108.5,250.0h3M110,248.5v3M118.5,255.0h3M120,253.5v3M128.5,261.0h3M130,259.5v3M138.5,257.0h3M140,255.5v3M148.5,245.0h3M150,243.5v3M158.5,255.0h3M160,253.5v3M168.5,260.0h3M170,258.5v3M178.5,255.0h3M180,253.5v3M188.5,251.0h3M190,249.5v3M198.5,255.0h3M200,253.5v3M208.5,257.0h3M210,255.5v3M218.5,252.0h3M220,250.5v3M228.5,253.0h3M230,251.5v3M238.5,252.0h3M240,250.5v3M248.5,248.0h3M250,246.5v3M258.5,248.0h3M260,246.5v3M268.5,244.0h3M270,242.5v3M278.5,240.0h3M280,238.5v3M288.5,253.0h3M290,251.5v3M298.5,241.0h3M300,239.5v3M308.5,245.0h3M310,243.5v3M318.5,253.0h3M320,251.5v3M328.5,269.0h3M330,267.5v3M338.5,258.0h3M340,256.5v3M348.5,260.0h3M350,258.5v3M358.5,276.0h3M360,274.5v3M368.5,296.0h3M370,294.5v3M378.5,296.0h3M380,294.5v3M388.5,255.0h3M390,253.5v3M398.5,242.0h3M400,240.5v3M408.5,232.0h3M410,230.5v3M418.5,219.0h3M420,217.5v3M428.5,217.0h3M430,215.5v3M438.5,228.0h3M440,226.5v3M448.5,239.0h3M450,237.5v3M458.5,250.0h3M460,248.5v3M468.5,257.0h3M470,255.5v3M478.5,269.0h3M480,267.5v3M488.5,293.0h3M490,291.5v3M498.5,280.0h3M500,278.5v3M508.5,287.0h3M510,285.5v3M518.5,286.0h3M520,284.5v3M528.5,279.0h3M530,277.5v3M538.5,259.0h3M540,257.5v3M548.5,246.0h3M550,244.5v3M558.5,253.0h3M560,251.5v3M568.5,279.0h3M570,277.5v3M578.5,286.0h3M580,284.5v3M588.5,264.0h3M590,262.5v3M598.5,274.0h3M600,272.5v3M608.5,287.0h3M610,285.5v3M618.5,274.0h3M620,272.5v3M628.5,263.0h3M630,261.5v3M638.5,290.0h3M640,288.5v3M648.5,303.0h3M650,301.5v3M658.5,320.0h3M660,318.5v3M668.5,332.0h3M670,330.5v3M678.5,337.0h3M680,335.5v3M688.5,337.0h3M690,335.5v3" stroke="#806028" stroke-width="1" fill="none"/>
<polyline points="50,590.0 60,590.0 70,590.0 80,590.0 90,590.0 100,590.0 110,590.0 120,590.0 130,590.0 140,590.0 150,590.0 160,590.0 170,590.0 180,586.0 190,583.6 200,590.0 210,588.0 220,584.0 230,588.0 240,590.0 250,590.0 260,589.0 270,590.0 280,590.0 290,586.0 300,590.0 310,590.0 320,589.0 330,590.0 340,590.0 350,587.0 360,590.0 370,590.0 380,590.0 390,590.0 400,590.0 410,588.0 420,587.0 430,590.0 440,590.0 450,590.0 460,590.0 470,590.0 480,590.0 490,590.0 500,590.0 510,590.0 520,589.0 530,589.0 540,586.8 550,590.0 560,590.0 570,590.0 580,588.4 590,590.0 600,590.0 610,589.0 620,590.0 630,590.0 640,588.4 650,585.2 660,590.0 670,590.0 680,590.0 690,583.6" fill="none" stroke="#806028" stroke-width="1" />
<path d="M178.5,586h3M180,584.5v3M188.5,584h3M190,582.5v3M208.5,588h3M210,586.5v3M218.5,584h3M220,582.5v3M228.5,588h3M230,586.5v3M288.5,586h3M290,584.5v3M348.5,587h3M350,585.5v3M408.5,588h3M410,586.5v3M418.5,587h3M420,585.5v3M538.5,587h3M540,585.5v3M578.5,588h3M580,586.5v3M638.5,588h3M640,586.5v3M648.5,585h3M650,583.5v3M688.5,584h3M690,582.5v3" stroke="#806028" stroke-width="1" fill="none"/>
<polyline points="50,260.6 60,257.3 70,249.9 80,257.2 90,259.7 100,262.5 110,248.4 120,260.7 130,266.1 140,251.7 150,247.6 160,255.8 170,257.5 180,251.1 190,249.5 200,256.1 210,256.1 220,252.4 230,241.3 240,255.0 250,254.3 260,258.2 270,243.6 280,245.8 290,235.4 300,238.3 310,246.4 320,238.0 330,274.7 340,249.8 350,238.3 360,250.0 370,270.3 380,280.9 390,271.0 400,259.5 410,231.2 420,228.2 430,231.2 440,235.7 450,243.0 460,252.0 470,258.7 480,264.7 490,276.6 500,272.9 510,285.0 520,261.8 530,272.5 540,254.7 550,248.0 560,274.3 570,267.4 580,255.5 590,258.3 600,269.2 610,262.9 620,242.7 630,240.0 640,261.5 650,259.1 660,278.0 670,247.1 680,243.3 690,256.1" fill="none" stroke="#300070" stroke-width="1" />
<path d="M48.5,261.0h3M50,259.5v3M58.5,257.0h3M60,255.5v3M68.5,250.0h3M70,248.5v3M78.5,257.0h3M80,255.5v3M88.5,260.0h3M90,258.5v3M98.5,262.0h3M100,260.5v3M108.5,248.0h3M110,246.5v3M118.5,261.0h3M120,259.5v3M128.5,266.0h3M130,264.5v3M138.5,252.0h3M140,250.5v3M148.5,248.0h3M150,246.5v3M158.5,256.0h3M160,254.5v3M168.5,257.0h3M170,255.5v3M178.5,251.0h3M180,249.5v3M188.5,250.0h3M190,248.5v3M198.5,256.0h3M200,254.5v3M208.5,256.0h3M210,254.5v3M218.5,252.0h3M220,250.5v3M228.5,241.0h3M230,239.5v3M238.5,255.0h3M240,253.5v3M248.5,254.0h3M250,252.5v3M258.5,258.0h3M260,256.5v3M268.5,244.0h3M270,242.5v3M278.5,246.0h3M280,244.5v3M288.5,235.0h3M290,233.5v3M298.5,238.0h3M300,236.5v3M308.5,246.0h3M310,244.5v3M318.5,238.0h3M320,236.5v3M328.5,275.0h3M330,273.5v3M338.5,250.0h3M340,248.5v3M348.5,238.0h3M350,236.5v3M358.5,250.0h3M360,248.5v3M368.5,270.0h3M370,268.5v3M378.5,281.0h3M380,279.5v3M388.5,271.0h3M390,269.5v3M398.5,260.0h3M400,258.5v3M408.5,231.0h3M410,229.5v3M418.5,228.0h3M420,226.5v3M428.5,231.0h3M430,229.5v3M438.5,236.0h3M440,234.5v3M448.5,243.0h3M450,241.5v3M458.5,252.0h3M460,250.5v3M468.5,259.0h3M470,257.5v3M478.5,265.0h3M480,263.5v3M488.5,277.0h3M490,275.5v3M498.5,273.0h3M500,271.5v3M508.5,285.0h3M510,283.5v3M518.5,262.0h3M520,260.5v3M528.5,273.0h3M530,271.5v3M538.5,255.0h3M540,253.5v3M548.5,248.0h3M550,246.5v3M558.5,274.0h3M560,272.5v3M568.5,267.0h3M570,265.5v3M578.5,256.0h3M580,254.5v3M588.5,258.0h3M590,256.5v3M598.5,269.0h3M600,267.5v3M608.5,263.0h3M610,261.5v3M618.5,243.0h3M620,241.5v3M628.5,240.0h3M630,238.5v3M638.5,262.0h3M640,260.5v3M648.5,259.0h3M650,257.5v3M658.5,278.0h3M660,276.5v3M668.5,247.0h3M670,245.5v3M678.5,243.0h3M680,241.5v3M688.5,256.0h3M690,254.5v3" stroke="#300070" stroke-width="1" fill="none"/>
<polyline points="50,590.0 60,590.0 70,590.0 80,590.0 90,590.0 100,590.0 110,590.0 120,590.0 130,589.0 140,590.0 150,590.0 160,590.0 170,590.0 180,590.0 190,590.0 200,590.0 210,590.0 220,590.0 230,590.0 240,590.0 250,590.0 260,590.0 270,590.0 280,586.0 290,590.0 300,590.0 310,590.0 320,586.0 330,590.0 340,590.0 350,590.0 360,590.0 370,590.0 380,589.0 390,590.0 400,588.0 410,590.0 420,590.0 430,589.0 440,590.0 450,589.0 460,583.0 470,587.0 480,589.0 490,590.0 500,589.0 510,562.9 520,562.0 530,580.3 540,564.5 550,537.5 560,566.0 570,574.0 580,578.7 590,580.3 600,583.5 610,585.0 620,577.2 630,561.3 640,570.8 650,578.7 660,580.3 670,585.0 680,587.0 690,588.0" fill="none" stroke="#300070" stroke-width="1" />
<path d="M278.5,586h3M280,584.5v3M318.5,586h3M320,584.5v3M398.5,588h3M400,586.5v3M458.5,583h3M460,581.5v3M468.5,587h3M470,585.5v3M508.5,563h3M510,561.5v3M518.5,562h3M520,560.5v3M528.5,580h3M530,578.5v3M538.5,564h3M540,562.5v3M548.5,538h3M550,536.5v3M558.5,566h3M560,564.5v3M568.5,574h3M570,572.5v3M578.5,579h3M580,577.5v3M588.5,580h3M590,578.5v3M598.5,584h3M600,582.5v3M608.5,585h3M610,583.5v3M618.5,577h3M620,575.5v3M628.5,561h3M630,559.5v3M638.5,571h3M640,569.5v3M648.5,579h3M650,577.5v3M658.5,580h3M660,578.5v3M668.5,585h3M670,583.5v3M678.5,587h3M680,585.5v3M688.5,588h3M690,586.5v3" stroke="#300070" stroke-width="1" fill="none"/>
<polyline points="50,264.6 60,260.4 70,250.3 80,254.5 90,259.4 100,262.0 110,252.6 120,263.3 130,272.4 140,267.5 150,256.1 160,264.5 170,261.3 180,256.4 190,260.5 200,256.7 210,264.8 220,242.9 230,233.2 240,231.5 250,254.0 260,266.2 270,271.0 280,281.5 290,275.0 300,246.0 310,257.2 320,265.5 330,302.5 340,305.0 350,290.0 360,269.2 370,277.4 380,279.2 390,264.7 400,271.8 410,308.8 420,307.0 430,329.6 440,344.5 450,357.5 460,333.0 470,310.7 480,309.5 490,344.6 500,319.6 510,315.9 520,313.7 530,327.8 540,318.1 550,320.5 560,320.0 570,316.3 580,299.2 590,300.7 600,294.7 610,295.5 620,291.8 630,297.0 640,301.6 650,300.1 660,290.5 670,289.7 680,286.0 690,292.7" fill="none" stroke="#F0D010" stroke-width="1" />
<path d="M48.5,265.0h3M50,263.5v3M58.5,260.0h3M60,258.5v3M68.5,250.0h3M70,248.5v3M78.5,255.0h3M80,253.5v3M88.5,259.0h3M90,257.5v3M98.5,262.0h3M100,260.5v3M108.5,253.0h3M110,251.5v3M118.5,263.0h3M120,261.5v3M128.5,272.0h3M130,270.5v3M138.5,268.0h3M140,266.5v3M148.5,256.0h3M150,254.5v3M158.5,264.0h3M160,262.5v3M168.5,261.0h3M170,259.5v3M178.5,256.0h3M180,254.5v3M188.5,261.0h3M190,259.5v3M198.5,257.0h3M200,255.5v3M208.5,265.0h3M210,263.5v3M218.5,243.0h3M220,241.5v3M228.5,233.0h3M230,231.5v3M238.5,232.0h3M240,230.5v3M248.5,254.0h3M250,252.5v3M258.5,266.0h3M260,264.5v3M268.5,271.0h3M270,269.5v3M278.5,282.0h3M280,280.5v3M288.5,275.0h3M290,273.5v3M298.5,246.0h3M300,244.5v3M308.5,257.0h3M310,255.5v3M318.5,266.0h3M320,264.5v3M328.5,302.0h3M330,300.5v3M338.5,305.0h3M340,303.5v3M348.5,290.0h3M350,288.5v3M358.5,269.0h3M360,267.5v3M368.5,277.0h3M370,275.5v3M378.5,279.0h3M380,277.5v3M388.5,265.0h3M390,263.5v3M398.5,272.0h3M400,270.5v3M408.5,309.0h3M410,307.5v3M418.5,307.0h3M420,305.5v3M428.5,330.0h3M430,328.5v3M438.5,344.0h3M440,342.5v3M448.5,358.0h3M450,356.5v3M458.5,333.0h3M460,331.5v3M468.5,311.0h3M470,309.5v3M478.5,310.0h3M480,308.5v3M488.5,345.0h3M490,343.5v3M498.5,320.0h3M500,318.5v3M508.5,316.0h3M510,314.5v3M518.5,314.0h3M520,312.5v3M528.5,328.0h3M530,326.5v3M538.5,318.0h3M540,316.5v3M548.5,320.0h3M550,318.5v3M558.5,320.0h3M560,318.5v3M568.5,316.0h3M570,314.5v3M578.5,299.0h3M580,297.5v3M588.5,301.0h3M590,299.5v3M598.5,295.0h3M600,293.5v3M608.5,296.0h3M610,294.5v3M618.5,292.0h3M620,290.5v3M628.5,297.0h3M630,295.5v3M638.5,302.0h3M640,300.5v3M648.5,300.0h3M650,298.5v3M658.5,290.0h3M660,288.5v3M668.5,290.0h3M670,288.5v3M678.5,286.0h3M680,284.5v3M688.5,293.0h3M690,291.5v3" stroke="#F0D010" stroke-width="1" fill="none"/>
<polyline points="50,590.0 60,590.0 70,590.0 80,590.0 90,590.0 100,589.0 110,589.0 120,590.0 130,590.0 140,590.0 150,590.0 160,590.0 170,590.0 180,590.0 190,590.0 200,589.0 210,590.0 220,590.0 230,590.0 240,590.0 250,586.0 260,589.0 270,586.0 280,590.0 290,589.0 300,588.0 310,587.0 320,590.0 330,590.0 340,590.0 350,588.0 360,581.3 370,588.0 380,585.0 390,585.0 400,587.0 410,589.0 420,588.0 430,590.0 440,590.0 450,589.0 460,590.0 470,589.0 480,590.0 490,590.0 500,585.2 510,590.0 520,586.8 530,590.0 540,590.0 550,590.0 560,590.0 570,590.0 580,590.0 590,590.0 600,590.0 610,590.0 620,590.0 630,590.0 640,590.0 650,590.0 660,590.0 670,590.0 680,588.4 690,588.4" fill="none" stroke="#F0D010" stroke-width="1" />
<path d="M248.5,586h3M250,584.5v3M268.5,586h3M270,584.5v3M298.5,588h3M300,586.5v3M308.5,587h3M310,585.5v3M348.5,588h3M350,586.5v3M358.5,581h3M360,579.5v3M368.5,588h3M370,586.5v3M378.5,585h3M380,583.5v3M388.5,585h3M390,583.5v3M398.5,587h3M400,585.5v3M418.5,588h3M420,586.5v3M498.5,585h3M500,583.5v3M518.5,587h3M520,585.5v3M678.5,588h3M680,586.5v3M688.5,588h3M690,586.5v3" stroke="#F0D010" stroke-width="1" fill="none"/>
<polyline points="50,260.4 60,258.8 70,247.5 80,257.1 90,260.4 100,263.0 110,260.7 120,263.2 130,261.4 140,258.7 150,248.5 160,255.2 170,255.4 180,258.2 190,252.9 200,258.2 210,259.5 220,255.9 230,260.6 240,263.5 250,271.4 260,260.1 270,249.6 280,257.6 290,235.8 300,228.3 310,230.6 320,285.0 330,313.2 340,338.5 350,348.6 360,362.0 370,371.5 380,377.5 390,365.7 400,363.0 410,373.7 420,360.8 430,301.0 440,283.2 450,286.4 460,281.8 470,261.6 480,262.4 490,272.3 500,263.5 510,270.7 520,246.6 530,255.9 540,270.4 550,275.8 560,257.4 570,268.3 580,282.5 590,282.7 600,304.4 610,311.1 620,285.0 630,291.8 640,324.3 650,353.6 660,338.8 670,324.0 680,337.3 690,328.4" fill="none" stroke="#2060A0" stroke-width="1" />
<path d="M48.5,260.0h3M50,258.5v3M58.5,259.0h3M60,257.5v3M68.5,248.0h3M70,246.5v3M78.5,257.0h3M80,255.5v3M88.5,260.0h3M90,258.5v3M98.5,263.0h3M100,261.5v3M108.5,261.0h3M110,259.5v3M118.5,263.0h3M120,261.5v3M128.5,261.0h3M130,259.5v3M138.5,259.0h3M140,257.5v3M148.5,249.0h3M150,247.5v3M158.5,255.0h3M160,253.5v3M168.5,255.0h3M170,253.5v3M178.5,258.0h3M180,256.5v3M188.5,253.0h3M190,251.5v3M198.5,258.0h3M200,256.5v3M208.5,260.0h3M210,258.5v3M218.5,256.0h3M220,254.5v3M228.5,261.0h3M230,259.5v3M238.5,264.0h3M240,262.5v3M248.5,271.0h3M250,269.5v3M258.5,260.0h3M260,258.5v3M268.5,250.0h3M270,248.5v3M278.5,258.0h3M280,256.5v3M288.5,236.0h3M290,234.5v3M298.5,228.0h3M300,226.5v3M308.5,231.0h3M310,229.5v3M318.5,285.0h3M320,283.5v3M328.5,313.0h3M330,311.5v3M338.5,338.0h3M340,336.5v3M348.5,349.0h3M350,347.5v3M358.5,362.0h3M360,360.5v3M368.5,372.0h3M370,370.5v3M378.5,378.0h3M380,376.5v3M388.5,366.0h3M390,364.5v3M398.5,363.0h3M400,361.5v3M408.5,374.0h3M410,372.5v3M418.5,361.0h3M420,359.5v3M428.5,301.0h3M430,299.5v3M438.5,283.0h3M440,281.5v3M448.5,286.0h3M450,284.5v3M458.5,282.0h3M460,280.5v3M468.5,262.0h3M470,260.5v3M478.5,262.0h3M480,260.5v3M488.5,272.0h3M490,270.5v3M498.5,263.0h3M500,261.5v3M508.5,271.0h3M510,269.5v3M518.5,247.0h3M520,245.5v3M528.5,256.0h3M530,254.5v3M538.5,270.0h3M540,268.5v3M548.5,276.0h3M550,274.5v3M558.5,257.0h3M560,255.5v3M568.5,268.0h3M570,266.5v3M578.5,282.0h3M580,280.5v3M588.5,283.0h3M590,281.5v3M598.5,304.0h3M600,302.5v3M608.5,311.0h3M610,309.5v3M618.5,285.0h3M620,283.5v3M628.5,292.0h3M630,290.5v3M638.5,324.0h3M640,322.5v3M648.5,354.0h3M650,352.5v3M658.5,339.0h3M660,337.5v3M668.5,324.0h3M670,322.5v3M678.5,337.0h3M680,335.5v3M688.5,328.0h3M690,326.5v3" stroke="#2060A0" stroke-width="1" fill="none"/>
<polyline points="50,590.0 60,590.0 70,590.0 80,590.0 90,590.0 100,590.0 110,590.0 120,590.0 130,590.0 140,590.0 150,590.0 160,590.0 170,590.0 180,590.0 190,590.0 200,590.0 210,590.0 220,590.0 230,590.0 240,590.0 250,590.0 260,590.0 270,590.0 280,590.0 290,590.0 300,590.0 310,590.0 320,590.0 330,590.0 340,590.0 350,590.0 360,589.0 370,590.0 380,590.0 390,590.0 400,590.0 410,590.0 420,590.0 430,590.0 440,590.0 450,590.0 460,590.0 470,590.0 480,590.0 490,590.0 500,585.2 510,590.0 520,585.2 530,590.0 540,588.4 550,588.4 560,586.8 570,590.0 580,590.0 590,590.0 600,590.0 610,586.8 620,590.0 630,590.0 640,590.0 650,583.6 660,590.0 670,590.0 680,590.0 690,590.0" fill="none" stroke="#2060A0" stroke-width="1" />
<path d="M498.5,585h3M500,583.5v3M518.5,585h3M520,583.5v3M538.5,588h3M540,586.5v3M548.5,588h3M550,586.5v3M558.5,587h3M560,585.5v3M608.5,587h3M610,585.5v3M648.5,584h3M650,582.5v3" stroke="#2060A0" stroke-width="1" fill="none"/>
<polyline points="50,259.6 60,257.0 70,245.5 80,251.6 90,258.2 100,259.7 110,247.0 120,250.3 130,259.2 140,249.5 150,239.1 160,253.2 170,256.7 180,257.9 190,258.9 200,258.3 210,249.7 220,255.2 230,257.8 240,261.0 250,247.2 260,259.4 270,247.7 280,240.0 290,249.5 300,252.3 310,245.7 320,262.3 330,262.5 340,268.1 350,233.4 360,240.0 370,254.3 380,265.4 390,258.0 400,268.4 410,265.4 420,261.0 430,254.3 440,245.0 450,233.4 460,238.6 470,237.2 480,236.4 490,243.1 500,243.9 510,240.9 520,244.6 530,242.4 540,238.4 550,218.0 560,224.8 570,244.5 580,259.0 590,255.0 600,272.5 610,280.1 620,258.2 630,265.1 640,243.7 650,244.5 660,244.7 670,270.5 680,271.3 690,302.0" fill="none" stroke="#905820" stroke-width="1" />
<path d="M48.5,260.0h3M50,258.5v3M58.5,257.0h3M60,255.5v3M68.5,246.0h3M70,244.5v3M78.5,252.0h3M80,250.5v3M88.5,258.0h3M90,256.5v3M98.5,260.0h3M100,258.5v3M108.5,247.0h3M110,245.5v3M118.5,250.0h3M120,248.5v3M128.5,259.0h3M130,257.5v3M138.5,250.0h3M140,248.5v3M148.5,239.0h3M150,237.5v3M158.5,253.0h3M160,251.5v3M168.5,257.0h3M170,255.5v3M178.5,258.0h3M180,256.5v3M188.5,259.0h3M190,257.5v3M198.5,258.0h3M200,256.5v3M208.5,250.0h3M210,248.5v3M218.5,255.0h3M220,253.5v3M228.5,258.0h3M230,256.5v3M238.5,261.0h3M240,259.5v3M248.5,247.0h3M250,245.5v3M258.5,259.0h3M260,257.5v3M268.5,248.0h3M270,246.5v3M278.5,240.0h3M280,238.5v3M288.5,249.0h3M290,247.5v3M298.5,252.0h3M300,250.5v3M308.5,246.0h3M310,244.5v3M318.5,262.0h3M320,260.5v3M328.5,263.0h3M330,261.5v3M338.5,268.0h3M340,266.5v3M348.5,233.0h3M350,231.5v3M358.5,240.0h3M360,238.5v3M368.5,254.0h3M370,252.5v3M378.5,265.0h3M380,263.5v3M388.5,258.0h3M390,256.5v3M398.5,268.0h3M400,266.5v3M408.5,265.0h3M410,263.5v3M418.5,261.0h3M420,259.5v3M428.5,254.0h3M430,252.5v3M438.5,245.0h3M440,243.5v3M448.5,233.0h3M450,231.5v3M458.5,239.0h3M460,237.5v3M468.5,237.0h3M470,235.5v3M478.5,236.0h3M480,234.5v3M488.5,243.0h3M490,241.5v3M498.5,244.0h3M500,242.5v3M508.5,241.0h3M510,239.5v3M518.5,245.0h3M520,243.5v3M528.5,242.0h3M530,240.5v3M538.5,238.0h3M540,236.5v3M548.5,218.0h3M550,216.5v3M558.5,225.0h3M560,223.5v3M568.5,244.0h3M570,242.5v3M578.5,259.0h3M580,257.5v3M588.5,255.0h3M590,253.5v3M598.5,272.0h3M600,270.5v3M608.5,280.0h3M610,278.5v3M618.5,258.0h3M620,256.5v3M628.5,265.0h3M630,263.5v3M638.5,244.0h3M640,242.5v3M648.5,244.0h3M650,242.5v3M658.5,245.0h3M660,243.5v3M668.5,271.0h3M670,269.5v3M678.5,271.0h3M680,269.5v3M688.5,302.0h3M690,300.5v3" stroke="#905820" stroke-width="1" fill="none"/>
<polyline points="50,590.0 60,590.0 70,590.0 80,590.0 90,590.0 100,590.0 110,590.0 120,590.0 130,590.0 140,590.0 150,590.0 160,590.0 170,590.0 180,590.0 190,590.0 200,590.0 210,590.0 220,589.0 230,590.0 240,589.0 250,590.0 260,590.0 270,590.0 280,590.0 290,590.0 300,590.0 310,590.0 320,590.0 330,588.0 340,590.0 350,590.0 360,590.0 370,590.0 380,589.0 390,590.0 400,590.0 410,590.0 420,590.0 430,589.0 440,590.0 450,590.0 460,590.0 470,590.0 480,589.0 490,590.0 500,590.0 510,590.0 520,590.0 530,590.0 540,587.0 550,582.5 560,587.0 570,585.2 580,590.0 590,588.4 600,589.0 610,590.0 620,590.0 630,588.4 640,590.0 650,590.0 660,586.8 670,590.0 680,590.0 690,590.0" fill="none" stroke="#905820" stroke-width="1" />
<path d="M328.5,588h3M330,586.5v3M538.5,587h3M540,585.5v3M548.5,582h3M550,580.5v3M558.5,587h3M560,585.5v3M568.5,585h3M570,583.5v3M588.5,588h3M590,586.5v3M628.5,588h3M630,586.5v3M658.5,587h3M660,585.5v3" stroke="#905820" stroke-width="1" fill="none"/>
<polyline points="50,258.8 60,254.6 70,244.4 80,251.4 90,255.5 100,259.3 110,248.2 120,252.7 130,257.4 140,250.7 150,240.4 160,249.3 170,250.5 180,245.1 190,251.9 200,244.2 210,245.1 220,243.4 230,237.7 240,240.0 250,232.0 260,229.7 270,223.0 280,235.0 290,230.0 300,240.0 310,228.0 320,228.0 330,235.0 340,240.0 350,217.8 360,226.0 370,240.9 380,235.0 390,232.0 400,240.0 410,241.0 420,246.8 430,252.0 440,250.0 450,244.6 460,241.6 470,246.0 480,236.4 490,231.2 500,225.6 510,232.4 520,227.5 530,235.4 540,232.0 550,224.2 560,227.4 570,234.0 580,235.5 590,233.3 600,224.4 610,227.4 620,224.8 630,225.6 640,212.0 650,216.4 660,215.4 670,192.6 680,203.8 690,205.3" fill="none" stroke="#A090F0" stroke-width="1" />
<path d="M48.5,259.0h3M50,257.5v3M58.5,255.0h3M60,253.5v3M68.5,244.0h3M70,242.5v3M78.5,251.0h3M80,249.5v3M88.5,255.0h3M90,253.5v3M98.5,259.0h3M100,257.5v3M108.5,248.0h3M110,246.5v3M118.5,253.0h3M120,251.5v3M128.5,257.0h3M130,255.5v3M138.5,251.0h3M140,249.5v3M148.5,240.0h3M150,238.5v3M158.5,249.0h3M160,247.5v3M168.5,251.0h3M170,249.5v3M178.5,245.0h3M180,243.5v3M188.5,252.0h3M190,250.5v3M198.5,244.0h3M200,242.5v3M208.5,245.0h3M210,243.5v3M218.5,243.0h3M220,241.5v3M228.5,238.0h3M230,236.5v3M238.5,240.0h3M240,238.5v3M248.5,232.0h3M250,230.5v3M258.5,230.0h3M260,228.5v3M268.5,223.0h3M270,221.5v3M278.5,235.0h3M280,233.5v3M288.5,230.0h3M290,228.5v3M298.5,240.0h3M300,238.5v3M308.5,228.0h3M310,226.5v3M318.5,228.0h3M320,226.5v3M328.5,235.0h3M330,233.5v3M338.5,240.0h3M340,238.5v3M348.5,218.0h3M350,216.5v3M358.5,226.0h3M360,224.5v3M368.5,241.0h3M370,239.5v3M378.5,235.0h3M380,233.5v3M388.5,232.0h3M390,230.5v3M398.5,240.0h3M400,238.5v3M408.5,241.0h3M410,239.5v3M418.5,247.0h3M420,245.5v3M428.5,252.0h3M430,250.5v3M438.5,250.0h3M440,248.5v3M448.5,245.0h3M450,243.5v3M458.5,242.0h3M460,240.5v3M468.5,246.0h3M470,244.5v3M478.5,236.0h3M480,234.5v3M488.5,231.0h3M490,229.5v3M498.5,226.0h3M500,224.5v3M508.5,232.0h3M510,230.5v3M518.5,228.0h3M520,226.5v3M528.5,235.0h3M530,233.5v3M538.5,232.0h3M540,230.5v3M548.5,224.0h3M550,222.5v3M558.5,227.0h3M560,225.5v3M568.5,234.0h3M570,232.5v3M578.5,236.0h3M580,234.5v3M588.5,233.0h3M590,231.5v3M598.5,224.0h3M600,222.5v3M608.5,227.0h3M610,225.5v3M618.5,225.0h3M620,223.5v3M628.5,226.0h3M630,224.5v3M638.5,212.0h3M640,210.5v3M648.5,216.0h3M650,214.5v3M658.5,215.0h3M660,213.5v3M668.5,193.0h3M670,191.5v3M678.5,204.0h3M680,202.5v3M688.5,205.0h3M690,203.5v3" stroke="#A090F0" stroke-width="1" fill="none"/>
<polyline points="50,590.0 60,590.0 70,590.0 80,590.0 90,590.0 100,589.0 110,590.0 120,590.0 130,590.0 140,590.0 150,589.0 160,590.0 170,590.0 180,590.0 190,590.0 200,590.0 210,590.0 220,590.0 230,589.0 240,590.0 250,589.0 260,590.0 270,590.0 280,590.0 290,590.0 300,590.0 310,590.0 320,589.0 330,590.0 340,586.0 350,580.0 360,588.0 370,590.0 380,587.0 390,587.0 400,590.0 410,589.0 420,589.0 430,589.0 440,590.0 450,590.0 460,586.0 470,590.0 480,590.0 490,590.0 500,590.0 510,590.0 520,590.0 530,590.0 540,590.0 550,590.0 560,590.0 570,589.0 580,590.0 590,590.0 600,588.4 610,590.0 620,590.0 630,586.8 640,590.0 650,589.0 660,590.0 670,590.0 680,590.0 690,590.0" fill="none" stroke="#A090F0" stroke-width="1" />
<path d="M338.5,586h3M340,584.5v3M348.5,580h3M350,578.5v3M358.5,588h3M360,586.5v3M378.5,587h3M380,585.5v3M388.5,587h3M390,585.5v3M458.5,586h3M460,584.5v3M598.5,588h3M600,586.5v3M628.5,587h3M630,585.5v3" stroke="#A090F0" stroke-width="1" fill="none"/>
<polyline points="50,264.1 60,258.1 70,246.1 80,253.5 90,263.7 100,262.6 110,257.7 120,265.8 130,262.6 140,263.6 150,257.8 160,257.1 170,253.7 180,254.6 190,250.5 200,270.4 210,276.4 220,274.1 230,270.4 240,276.4 250,282.3 260,277.3 270,268.0 280,278.0 290,290.0 300,307.3 310,328.4 320,338.2 330,312.5 340,304.3 350,295.4 360,300.6 370,305.0 380,304.3 390,298.4 400,307.3 410,308.0 420,300.0 430,299.8 440,309.0 450,293.3 460,305.6 470,308.9 480,308.8 490,312.5 500,305.4 510,286.1 520,306.1 530,313.9 540,309.1 550,289.1 560,297.0 570,306.6 580,295.5 590,317.0 600,319.0 610,331.9 620,345.6 630,343.4 640,337.5 650,331.6 660,314.3 670,300.0 680,289.0 690,270.4" fill="none" stroke="#A0F040" stroke-width="1" />
<path d="M48.5,264.0h3M50,262.5v3M58.5,258.0h3M60,256.5v3M68.5,246.0h3M70,244.5v3M78.5,253.0h3M80,251.5v3M88.5,264.0h3M90,262.5v3M98.5,263.0h3M100,261.5v3M108.5,258.0h3M110,256.5v3M118.5,266.0h3M120,264.5v3M128.5,263.0h3M130,261.5v3M138.5,264.0h3M140,262.5v3M148.5,258.0h3M150,256.5v3M158.5,257.0h3M160,255.5v3M168.5,254.0h3M170,252.5v3M178.5,255.0h3M180,253.5v3M188.5,251.0h3M190,249.5v3M198.5,270.0h3M200,268.5v3M208.5,276.0h3M210,274.5v3M218.5,274.0h3M220,272.5v3M228.5,270.0h3M230,268.5v3M238.5,276.0h3M240,274.5v3M248.5,282.0h3M250,280.5v3M258.5,277.0h3M260,275.5v3M268.5,268.0h3M270,266.5v3M278.5,278.0h3M280,276.5v3M288.5,290.0h3M290,288.5v3M298.5,307.0h3M300,305.5v3M308.5,328.0h3M310,326.5v3M318.5,338.0h3M320,336.5v3M328.5,312.0h3M330,310.5v3M338.5,304.0h3M340,302.5v3M348.5,295.0h3M350,293.5v3M358.5,301.0h3M360,299.5v3M368.5,305.0h3M370,303.5v3M378.5,304.0h3M380,302.5v3M388.5,298.0h3M390,296.5v3M398.5,307.0h3M400,305.5v3M408.5,308.0h3M410,306.5v3M418.5,300.0h3M420,298.5v3M428.5,300.0h3M430,298.5v3M438.5,309.0h3M440,307.5v3M448.5,293.0h3M450,291.5v3M458.5,306.0h3M460,304.5v3M468.5,309.0h3M470,307.5v3M478.5,309.0h3M480,307.5v3M488.5,312.0h3M490,310.5v3M498.5,305.0h3M500,303.5v3M508.5,286.0h3M510,284.5v3M518.5,306.0h3M520,304.5v3M528.5,314.0h3M530,312.5v3M538.5,309.0h3M540,307.5v3M548.5,289.0h3M550,287.5v3M558.5,297.0h3M560,295.5v3M568.5,307.0h3M570,305.5v3M578.5,296.0h3M580,294.5v3M588.5,317.0h3M590,315.5v3M598.5,319.0h3M600,317.5v3M608.5,332.0h3M610,330.5v3M618.5,346.0h3M620,344.5v3M628.5,343.0h3M630,341.5v3M638.5,338.0h3M640,336.5v3M648.5,332.0h3M650,330.5v3M658.5,314.0h3M660,312.5v3M668.5,300.0h3M670,298.5v3M678.5,289.0h3M680,287.5v3M688.5,270.0h3M690,268.5v3" stroke="#A0F040" stroke-width="1" fill="none"/>
<polyline points="50,590.0 60,590.0 70,590.0 80,590.0 90,590.0 100,590.0 110,590.0 120,590.0 130,590.0 140,590.0 150,590.0 160,590.0 170,590.0 180,590.0 190,590.0 200,590.0 210,589.0 220,590.0 230,590.0 240,587.0 250,590.0 260,589.0 270,590.0 280,590.0 290,590.0 300,590.0 310,590.0 320,590.0 330,590.0 340,589.0 350,590.0 360,590.0 370,590.0 380,589.0 390,588.0 400,590.0 410,589.0 420,590.0 430,590.0 440,590.0 450,590.0 460,590.0 470,588.0 480,589.0 490,590.0 500,590.0 510,590.0 520,588.4 530,585.2 540,589.0 550,590.0 560,590.0 570,590.0 580,585.2 590,590.0 600,590.0 610,590.0 620,590.0 630,590.0 640,583.6 650,590.0 660,589.0 670,590.0 680,590.0 690,590.0" fill="none" stroke="#A0F040" stroke-width="1" />
<path d="M238.5,587h3M240,585.5v3M388.5,588h3M390,586.5v3M468.5,588h3M470,586.5v3M518.5,588h3M520,586.5v3M528.5,585h3M530,583.5v3M578.5,585h3M580,583.5v3M638.5,584h3M640,582.5v3" stroke="#A0F040" stroke-width="1" fill="none"/>
<polyline points="50,260.9 60,258.1 70,248.3 80,254.5 90,260.3 100,260.6 110,253.3 120,251.4 130,256.3 140,255.1 150,246.0 160,252.5 170,259.2 180,262.2 190,256.1 200,262.9 210,243.6 220,235.5 230,219.9 240,239.9 250,248.0 260,255.6 270,260.5 280,250.8 290,266.3 300,253.9 310,250.7 320,270.1 330,276.6 340,260.0 350,230.5 360,239.4 370,259.5 380,257.2 390,243.9 400,259.5 410,261.0 420,262.4 430,263.2 440,265.4 450,272.8 460,292.1 470,290.7 480,284.0 490,263.6 500,251.0 510,246.8 520,279.4 530,284.6 540,277.9 550,262.9 560,314.0 570,333.7 580,334.0 590,330.4 600,334.9 610,321.5 620,316.3 630,309.3 640,315.2 650,312.3 660,297.2 670,280.8 680,273.4 690,283.0" fill="none" stroke="#D070D8" stroke-width="1" />
<path d="M48.5,261.0h3M50,259.5v3M58.5,258.0h3M60,256.5v3M68.5,248.0h3M70,246.5v3M78.5,254.0h3M80,252.5v3M88.5,260.0h3M90,258.5v3M98.5,261.0h3M100,259.5v3M108.5,253.0h3M110,251.5v3M118.5,251.0h3M120,249.5v3M128.5,256.0h3M130,254.5v3M138.5,255.0h3M140,253.5v3M148.5,246.0h3M150,244.5v3M158.5,252.0h3M160,250.5v3M168.5,259.0h3M170,257.5v3M178.5,262.0h3M180,260.5v3M188.5,256.0h3M190,254.5v3M198.5,263.0h3M200,261.5v3M208.5,244.0h3M210,242.5v3M218.5,236.0h3M220,234.5v3M228.5,220.0h3M230,218.5v3M238.5,240.0h3M240,238.5v3M248.5,248.0h3M250,246.5v3M258.5,256.0h3M260,254.5v3M268.5,260.0h3M270,258.5v3M278.5,251.0h3M280,249.5v3M288.5,266.0h3M290,264.5v3M298.5,254.0h3M300,252.5v3M308.5,251.0h3M310,249.5v3M318.5,270.0h3M320,268.5v3M328.5,277.0h3M330,275.5v3M338.5,260.0h3M340,258.5v3M348.5,230.0h3M350,228.5v3M358.5,239.0h3M360,237.5v3M368.5,260.0h3M370,258.5v3M378.5,257.0h3M380,255.5v3M388.5,244.0h3M390,242.5v3M398.5,260.0h3M400,258.5v3M408.5,261.0h3M410,259.5v3M418.5,262.0h3M420,260.5v3M428.5,263.0h3M430,261.5v3M438.5,265.0h3M440,263.5v3M448.5,273.0h3M450,271.5v3M458.5,292.0h3M460,290.5v3M468.5,291.0h3M470,289.5v3M478.5,284.0h3M480,282.5v3M488.5,264.0h3M490,262.5v3M498.5,251.0h3M500,249.5v3M508.5,247.0h3M510,245.5v3M518.5,279.0h3M520,277.5v3M528.5,285.0h3M530,283.5v3M538.5,278.0h3M540,276.5v3M548.5,263.0h3M550,261.5v3M558.5,314.0h3M560,312.5v3M568.5,334.0h3M570,332.5v3M578.5,334.0h3M580,332.5v3M588.5,330.0h3M590,328.5v3M598.5,335.0h3M600,333.5v3M608.5,322.0h3M610,320.5v3M618.5,316.0h3M620,314.5v3M628.5,309.0h3M630,307.5v3M638.5,315.0h3M640,313.5v3M648.5,312.0h3M650,310.5v3M658.5,297.0h3M660,295.5v3M668.5,281.0h3M670,279.5v3M678.5,273.0h3M680,271.5v3M688.5,283.0h3M690,281.5v3" stroke="#D070D8" stroke-width="1" fill="none"/>
<polyline points="50,590.0 60,590.0 70,590.0 80,590.0 90,590.0 100,589.0 110,590.0 120,590.0 130,590.0 140,590.0 150,590.0 160,589.0 170,590.0 180,590.0 190,590.0 200,590.0 210,590.0 220,590.0 230,590.0 240,589.0 250,586.0 260,590.0 270,590.0 280,590.0 290,590.0 300,585.0 310,573.2 320,588.0 330,590.0 340,587.0 350,590.0 360,590.0 370,590.0 380,590.0 390,590.0 400,586.0 410,589.0 420,590.0 430,590.0 440,590.0 450,590.0 460,590.0 470,588.0 480,590.0 490,590.0 500,590.0 510,590.0 520,590.0 530,590.0 540,590.0 550,589.0 560,589.0 570,590.0 580,586.8 590,590.0 600,590.0 610,589.0 620,590.0 630,590.0 640,583.6 650,590.0 660,590.0 670,590.0 680,588.4 690,589.0" fill="none" stroke="#D070D8" stroke-width="1" />
<path d="M248.5,586h3M250,584.5v3M298.5,585h3M300,583.5v3M308.5,573h3M310,571.5v3M318.5,588h3M320,586.5v3M338.5,587h3M340,585.5v3M398.5,586h3M400,584.5v3M468.5,588h3M470,586.5v3M578.5,587h3M580,585.5v3M638.5,584h3M640,582.5v3M678.5,588h3M680,586.5v3" stroke="#D070D8" stroke-width="1" fill="none"/>
<polyline points="50,263.4 60,257.8 70,249.5 80,256.2 90,262.0 100,266.4 110,252.5 120,260.6 130,266.2 140,270.2 150,257.1 160,256.7 170,260.8 180,263.1 190,254.5 200,266.5 210,260.5 220,272.3 230,270.8 240,275.3 250,266.6 260,261.1 270,252.5 280,243.8 290,255.8 300,243.0 310,260.6 320,280.8 330,295.7 340,278.5 350,293.6 360,301.9 370,312.5 380,312.5 390,312.5 400,331.0 410,367.2 420,349.0 430,342.2 440,341.5 450,332.6 460,298.4 470,296.6 480,282.4 490,293.0 500,273.9 510,282.9 520,272.8 530,298.3 540,289.6 550,292.4 560,293.5 570,300.6 580,296.1 590,299.8 600,302.2 610,303.5 620,311.0 630,306.2 640,297.6 650,302.3 660,290.5 670,256.6 680,274.0 690,273.8" fill="none" stroke="#2000A0" stroke-width="1" />
<path d="M48.5,263.0h3M50,261.5v3M58.5,258.0h3M60,256.5v3M68.5,250.0h3M70,248.5v3M78.5,256.0h3M80,254.5v3M88.5,262.0h3M90,260.5v3M98.5,266.0h3M100,264.5v3M108.5,252.0h3M110,250.5v3M118.5,261.0h3M120,259.5v3M128.5,266.0h3M130,264.5v3M138.5,270.0h3M140,268.5v3M148.5,257.0h3M150,255.5v3M158.5,257.0h3M160,255.5v3M168.5,261.0h3M170,259.5v3M178.5,263.0h3M180,261.5v3M188.5,254.0h3M190,252.5v3M198.5,267.0h3M200,265.5v3M208.5,261.0h3M210,259.5v3M218.5,272.0h3M220,270.5v3M228.5,271.0h3M230,269.5v3M238.5,275.0h3M240,273.5v3M248.5,267.0h3M250,265.5v3M258.5,261.0h3M260,259.5v3M268.5,253.0h3M270,251.5v3M278.5,244.0h3M280,242.5v3M288.5,256.0h3M290,254.5v3M298.5,243.0h3M300,241.5v3M308.5,261.0h3M310,259.5v3M318.5,281.0h3M320,279.5v3M328.5,296.0h3M330,294.5v3M338.5,279.0h3M340,277.5v3M348.5,294.0h3M350,292.5v3M358.5,302.0h3M360,300.5v3M368.5,312.0h3M370,310.5v3M378.5,312.0h3M380,310.5v3M388.5,312.0h3M390,310.5v3M398.5,331.0h3M400,329.5v3M408.5,367.0h3M410,365.5v3M418.5,349.0h3M420,347.5v3M428.5,342.0h3M430,340.5v3M438.5,342.0h3M440,340.5v3M448.5,333.0h3M450,331.5v3M458.5,298.0h3M460,296.5v3M468.5,297.0h3M470,295.5v3M478.5,282.0h3M480,280.5v3M488.5,293.0h3M490,291.5v3M498.5,274.0h3M500,272.5v3M508.5,283.0h3M510,281.5v3M518.5,273.0h3M520,271.5v3M528.5,298.0h3M530,296.5v3M538.5,290.0h3M540,288.5v3M548.5,292.0h3M550,290.5v3M558.5,294.0h3M560,292.5v3M568.5,301.0h3M570,299.5v3M578.5,296.0h3M580,294.5v3M588.5,300.0h3M590,298.5v3M598.5,302.0h3M600,300.5v3M608.5,303.0h3M610,301.5v3M618.5,311.0h3M620,309.5v3M628.5,306.0h3M630,304.5v3M638.5,298.0h3M640,296.5v3M648.5,302.0h3M650,300.5v3M658.5,290.0h3M660,288.5v3M668.5,257.0h3M670,255.5v3M678.5,274.0h3M680,272.5v3M688.5,274.0h3M690,272.5v3" stroke="#2000A0" stroke-width="1" fill="none"/>
<polyline points="50,589.0 60,590.0 70,590.0 80,590.0 90,589.0 100,590.0 110,590.0 120,590.0 130,590.0 140,590.0 150,590.0 160,590.0 170,590.0 180,590.0 190,590.0 200,590.0 210,590.0 220,590.0 230,590.0 240,590.0 250,590.0 260,589.0 270,588.0 280,588.0 290,590.0 300,590.0 310,590.0 320,590.0 330,590.0 340,588.0 350,590.0 360,589.0 370,589.0 380,589.0 390,590.0 400,588.0 410,590.0 420,590.0 430,590.0 440,590.0 450,590.0 460,590.0 470,589.0 480,590.0 490,590.0 500,590.0 510,586.8 520,590.0 530,588.4 540,590.0 550,590.0 560,586.8 570,590.0 580,590.0 590,590.0 600,590.0 610,590.0 620,586.8 630,590.0 640,589.0 650,588.0 660,583.0 670,557.5 680,585.0 690,589.0" fill="none" stroke="#2000A0" stroke-width="1" />
<path d="M268.5,588h3M270,586.5v3M278.5,588h3M280,586.5v3M338.5,588h3M340,586.5v3M398.5,588h3M400,586.5v3M508.5,587h3M510,585.5v3M528.5,588h3M530,586.5v3M558.5,587h3M560,585.5v3M618.5,587h3M620,585.5v3M648.5,588h3M650,586.5v3M658.5,583h3M660,581.5v3M668.5,558h3M670,556.5v3M678.5,585h3M680,583.5v3" stroke="#2000A0" stroke-width="1" fill="none"/>
<polyline points="50,260.7 60,255.7 70,243.7 80,252.7 90,260.5 100,262.4 110,250.7 120,257.6 130,257.7 140,241.0 150,232.0 160,246.0 170,253.5 180,249.9 190,243.0 200,244.7 210,254.8 220,253.1 230,236.7 240,260.5 250,273.7 260,256.9 270,244.3 280,232.2 290,230.9 300,235.5 310,250.6 320,246.2 330,244.3 340,247.6 350,244.3 360,262.8 370,290.3 380,269.7 390,283.6 400,289.3 410,284.6 420,271.7 430,244.7 440,275.9 450,268.8 460,263.3 470,252.4 480,250.0 490,259.2 500,250.8 510,275.7 520,274.9 530,281.5 540,255.4 550,228.2 560,258.2 570,270.8 580,247.7 590,250.2 600,257.9 610,237.1 620,236.8 630,228.4 640,239.4 650,240.0 660,229.0 670,206.8 680,215.7 690,221.3" fill="none" stroke="#E0D0A8" stroke-width="1" />
<path d="M48.5,261.0h3M50,259.5v3M58.5,256.0h3M60,254.5v3M68.5,244.0h3M70,242.5v3M78.5,253.0h3M80,251.5v3M88.5,260.0h3M90,258.5v3M98.5,262.0h3M100,260.5v3M108.5,251.0h3M110,249.5v3M118.5,258.0h3M120,256.5v3M128.5,258.0h3M130,256.5v3M138.5,241.0h3M140,239.5v3M148.5,232.0h3M150,230.5v3M158.5,246.0h3M160,244.5v3M168.5,253.0h3M170,251.5v3M178.5,250.0h3M180,248.5v3M188.5,243.0h3M190,241.5v3M198.5,245.0h3M200,243.5v3M208.5,255.0h3M210,253.5v3M218.5,253.0h3M220,251.5v3M228.5,237.0h3M230,235.5v3M238.5,261.0h3M240,259.5v3M248.5,274.0h3M250,272.5v3M258.5,257.0h3M260,255.5v3M268.5,244.0h3M270,242.5v3M278.5,232.0h3M280,230.5v3M288.5,231.0h3M290,229.5v3M298.5,235.0h3M300,233.5v3M308.5,251.0h3M310,249.5v3M318.5,246.0h3M320,244.5v3M328.5,244.0h3M330,242.5v3M338.5,248.0h3M340,246.5v3M348.5,244.0h3M350,242.5v3M358.5,263.0h3M360,261.5v3M368.5,290.0h3M370,288.5v3M378.5,270.0h3M380,268.5v3M388.5,284.0h3M390,282.5v3M398.5,289.0h3M400,287.5v3M408.5,285.0h3M410,283.5v3M418.5,272.0h3M420,270.5v3M428.5,245.0h3M430,243.5v3M438.5,276.0h3M440,274.5v3M448.5,269.0h3M450,267.5v3M458.5,263.0h3M460,261.5v3M468.5,252.0h3M470,250.5v3M478.5,250.0h3M480,248.5v3M488.5,259.0h3M490,257.5v3M498.5,251.0h3M500,249.5v3M508.5,276.0h3M510,274.5v3M518.5,275.0h3M520,273.5v3M528.5,282.0h3M530,280.5v3M538.5,255.0h3M540,253.5v3M548.5,228.0h3M550,226.5v3M558.5,258.0h3M560,256.5v3M568.5,271.0h3M570,269.5v3M578.5,248.0h3M580,246.5v3M588.5,250.0h3M590,248.5v3M598.5,258.0h3M600,256.5v3M608.5,237.0h3M610,235.5v3M618.5,237.0h3M620,235.5v3M628.5,228.0h3M630,226.5v3M638.5,239.0h3M640,237.5v3M648.5,240.0h3M650,238.5v3M658.5,229.0h3M660,227.5v3M668.5,207.0h3M670,205.5v3M678.5,216.0h3M680,214.5v3M688.5,221.0h3M690,219.5v3" stroke="#E0D0A8" stroke-width="1" fill="none"/>
<polyline points="50,590.0 60,590.0 70,590.0 80,590.0 90,590.0 100,590.0 110,590.0 120,590.0 130,590.0 140,590.0 150,579.0 160,590.0 170,590.0 180,590.0 190,590.0 200,590.0 210,590.0 220,590.0 230,590.0 240,590.0 250,588.0 260,589.0 270,590.0 280,590.0 290,588.0 300,587.0 310,588.0 320,590.0 330,589.0 340,588.0 350,590.0 360,590.0 370,590.0 380,590.0 390,587.0 400,590.0 410,590.0 420,590.0 430,588.0 440,590.0 450,590.0 460,589.0 470,590.0 480,590.0 490,590.0 500,590.0 510,590.0 520,586.8 530,589.0 540,590.0 550,590.0 560,589.0 570,586.8 580,590.0 590,590.0 600,590.0 610,589.0 620,590.0 630,590.0 640,590.0 650,590.0 660,590.0 670,588.4 680,590.0 690,590.0" fill="none" stroke="#E0D0A8" stroke-width="1" />
<path d="M148.5,579h3M150,577.5v3M248.5,588h3M250,586.5v3M288.5,588h3M290,586.5v3M298.5,587h3M300,585.5v3M308.5,588h3M310,586.5v3M338.5,588h3M340,586.5v3M388.5,587h3M390,585.5v3M428.5,588h3M430,586.5v3M518.5,587h3M520,585.5v3M568.5,587h3M570,585.5v3M668.5,588h3M670,586.5v3" stroke="#E0D0A8" stroke-width="1" fill="none"/>
<polyline points="50,271.5 60,266.0 70,252.0 80,257.0 90,259.6 100,260.9 110,249.6 120,252.3 130,255.4 140,256.8 150,251.1 160,256.4 170,250.8 180,250.1 190,245.6 200,244.4 210,243.6 220,251.8 230,246.3 240,262.6 250,266.9 260,247.1 270,248.2 280,258.8 290,254.2 300,243.6 310,257.4 320,235.0 330,242.0 340,236.0 350,223.8 360,224.5 370,231.2 380,231.5 390,234.5 400,244.3 410,250.5 420,252.3 430,254.3 440,254.3 450,254.3 460,240.0 470,219.3 480,258.7 490,268.4 500,255.0 510,234.5 520,248.3 530,289.2 540,265.4 550,244.0 560,228.9 570,236.3 580,245.2 590,231.8 600,247.4 610,252.6 620,245.2 630,246.0 640,228.2 650,241.0 660,237.2 670,235.7 680,244.0 690,260.3" fill="none" stroke="#800008" stroke-width="1" />
<path d="M48.5,272.0h3M50,270.5v3M58.5,266.0h3M60,264.5v3M68.5,252.0h3M70,250.5v3M78.5,257.0h3M80,255.5v3M88.5,260.0h3M90,258.5v3M98.5,261.0h3M100,259.5v3M108.5,250.0h3M110,248.5v3M118.5,252.0h3M120,250.5v3M128.5,255.0h3M130,253.5v3M138.5,257.0h3M140,255.5v3M148.5,251.0h3M150,249.5v3M158.5,256.0h3M160,254.5v3M168.5,251.0h3M170,249.5v3M178.5,250.0h3M180,248.5v3M188.5,246.0h3M190,244.5v3M198.5,244.0h3M200,242.5v3M208.5,244.0h3M210,242.5v3M218.5,252.0h3M220,250.5v3M228.5,246.0h3M230,244.5v3M238.5,263.0h3M240,261.5v3M248.5,267.0h3M250,265.5v3M258.5,247.0h3M260,245.5v3M268.5,248.0h3M270,246.5v3M278.5,259.0h3M280,257.5v3M288.5,254.0h3M290,252.5v3M298.5,244.0h3M300,242.5v3M308.5,257.0h3M310,255.5v3M318.5,235.0h3M320,233.5v3M328.5,242.0h3M330,240.5v3M338.5,236.0h3M340,234.5v3M348.5,224.0h3M350,222.5v3M358.5,224.0h3M360,222.5v3M368.5,231.0h3M370,229.5v3M378.5,232.0h3M380,230.5v3M388.5,234.0h3M390,232.5v3M398.5,244.0h3M400,242.5v3M408.5,250.0h3M410,248.5v3M418.5,252.0h3M420,250.5v3M428.5,254.0h3M430,252.5v3M438.5,254.0h3M440,252.5v3M448.5,254.0h3M450,252.5v3M458.5,240.0h3M460,238.5v3M468.5,219.0h3M470,217.5v3M478.5,259.0h3M480,257.5v3M488.5,268.0h3M490,266.5v3M498.5,255.0h3M500,253.5v3M508.5,234.0h3M510,232.5v3M518.5,248.0h3M520,246.5v3M528.5,289.0h3M530,287.5v3M538.5,265.0h3M540,263.5v3M548.5,244.0h3M550,242.5v3M558.5,229.0h3M560,227.5v3M568.5,236.0h3M570,234.5v3M578.5,245.0h3M580,243.5v3M588.5,232.0h3M590,230.5v3M598.5,247.0h3M600,245.5v3M608.5,253.0h3M610,251.5v3M618.5,245.0h3M620,243.5v3M628.5,246.0h3M630,244.5v3M638.5,228.0h3M640,226.5v3M648.5,241.0h3M650,239.5v3M658.5,237.0h3M660,235.5v3M668.5,236.0h3M670,234.5v3M678.5,244.0h3M680,242.5v3M688.5,260.0h3M690,258.5v3" stroke="#800008" stroke-width="1" fill="none"/>
<polyline points="50,590.0 60,590.0 70,589.0 80,590.0 90,589.0 100,590.0 110,590.0 120,590.0 130,590.0 140,590.0 150,590.0 160,590.0 170,589.0 180,590.0 190,590.0 200,590.0 210,590.0 220,590.0 230,590.0 240,588.0 250,586.0 260,586.0 270,588.0 280,590.0 290,590.0 300,589.0 310,590.0 320,586.0 330,590.0 340,590.0 350,586.0 360,590.0 370,590.0 380,590.0 390,590.0 400,587.0 410,590.0 420,590.0 430,589.0 440,589.0 450,590.0 460,590.0 470,590.0 480,590.0 490,590.0 500,586.8 510,590.0 520,588.4 530,590.0 540,586.8 550,589.0 560,588.4 570,590.0 580,590.0 590,590.0 600,590.0 610,588.0 620,578.7 630,572.4 640,570.2 650,582.0 660,582.0 670,549.2 680,585.0 690,588.0" fill="none" stroke="#800008" stroke-width="1" />
<path d="M238.5,588h3M240,586.5v3M248.5,586h3M250,584.5v3M258.5,586h3M260,584.5v3M268.5,588h3M270,586.5v3M318.5,586h3M320,584.5v3M348.5,586h3M350,584.5v3M398.5,587h3M400,585.5v3M498.5,587h3M500,585.5v3M518.5,588h3M520,586.5v3M538.5,587h3M540,585.5v3M558.5,588h3M560,586.5v3M608.5,588h3M610,586.5v3M618.5,579h3M620,577.5v3M628.5,572h3M630,570.5v3M638.5,570h3M640,568.5v3M648.5,582h3M650,580.5v3M658.5,582h3M660,580.5v3M668.5,549h3M670,547.5v3M678.5,585h3M680,583.5v3M688.5,588h3M690,586.5v3" stroke="#800008" stroke-width="1" fill="none"/>
<polyline points="50,262.8 60,258.4 70,247.9 80,254.1 90,257.3 100,262.9 110,251.4 120,255.1 130,263.0 140,256.5 150,251.8 160,264.2 170,253.6 180,252.7 190,255.0 200,255.0 210,254.9 220,254.6 230,245.0 240,236.2 250,252.6 260,246.7 270,238.8 280,252.4 290,275.6 300,275.8 310,253.6 320,241.9 330,263.3 340,264.9 350,270.4 360,259.5 370,286.8 380,260.4 390,262.1 400,280.9 410,286.5 420,298.1 430,285.8 440,289.4 450,297.4 460,280.6 470,264.8 480,277.4 490,301.1 500,280.6 510,286.2 520,293.5 530,274.0 540,262.3 550,229.6 560,265.4 570,272.6 580,273.2 590,281.0 600,273.5 610,295.2 620,285.6 630,276.9 640,294.0 650,329.7 660,320.2 670,288.2 680,294.2 690,295.7" fill="none" stroke="#0038C0" stroke-width="1" />
<path d="M48.5,263.0h3M50,261.5v3M58.5,258.0h3M60,256.5v3M68.5,248.0h3M70,246.5v3M78.5,254.0h3M80,252.5v3M88.5,257.0h3M90,255.5v3M98.5,263.0h3M100,261.5v3M108.5,251.0h3M110,249.5v3M118.5,255.0h3M120,253.5v3M128.5,263.0h3M130,261.5v3M138.5,257.0h3M140,255.5v3M148.5,252.0h3M150,250.5v3M158.5,264.0h3M160,262.5v3M168.5,254.0h3M170,252.5v3M178.5,253.0h3M180,251.5v3M188.5,255.0h3M190,253.5v3M198.5,255.0h3M200,253.5v3M208.5,255.0h3M210,253.5v3M218.5,255.0h3M220,253.5v3M228.5,245.0h3M230,243.5v3M238.5,236.0h3M240,234.5v3M248.5,253.0h3M250,251.5v3M258.5,247.0h3M260,245.5v3M268.5,239.0h3M270,237.5v3M278.5,252.0h3M280,250.5v3M288.5,276.0h3M290,274.5v3M298.5,276.0h3M300,274.5v3M308.5,254.0h3M310,252.5v3M318.5,242.0h3M320,240.5v3M328.5,263.0h3M330,261.5v3M338.5,265.0h3M340,263.5v3M348.5,270.0h3M350,268.5v3M358.5,260.0h3M360,258.5v3M368.5,287.0h3M370,285.5v3M378.5,260.0h3M380,258.5v3M388.5,262.0h3M390,260.5v3M398.5,281.0h3M400,279.5v3M408.5,287.0h3M410,285.5v3M418.5,298.0h3M420,296.5v3M428.5,286.0h3M430,284.5v3M438.5,289.0h3M440,287.5v3M448.5,297.0h3M450,295.5v3M458.5,281.0h3M460,279.5v3M468.5,265.0h3M470,263.5v3M478.5,277.0h3M480,275.5v3M488.5,301.0h3M490,299.5v3M498.5,281.0h3M500,279.5v3M508.5,286.0h3M510,284.5v3M518.5,293.0h3M520,291.5v3M528.5,274.0h3M530,272.5v3M538.5,262.0h3M540,260.5v3M548.5,230.0h3M550,228.5v3M558.5,265.0h3M560,263.5v3M568.5,273.0h3M570,271.5v3M578.5,273.0h3M580,271.5v3M588.5,281.0h3M590,279.5v3M598.5,273.0h3M600,271.5v3M608.5,295.0h3M610,293.5v3M618.5,286.0h3M620,284.5v3M628.5,277.0h3M630,275.5v3M638.5,294.0h3M640,292.5v3M648.5,330.0h3M650,328.5v3M658.5,320.0h3M660,318.5v3M668.5,288.0h3M670,286.5v3M678.5,294.0h3M680,292.5v3M688.5,296.0h3M690,294.5v3" stroke="#0038C0" stroke-width="1" fill="none"/>
<polyline points="50,590.0 60,590.0 70,590.0 80,590.0 90,590.0 100,590.0 110,590.0 120,590.0 130,589.0 140,590.0 150,590.0 160,590.0 170,590.0 180,589.0 190,590.0 200,590.0 210,590.0 220,589.0 230,590.0 240,590.0 250,590.0 260,590.0 270,590.0 280,590.0 290,590.0 300,590.0 310,590.0 320,590.0 330,588.0 340,590.0 350,590.0 360,589.0 370,589.0 380,590.0 390,586.0 400,590.0 410,590.0 420,590.0 430,590.0 440,590.0 450,587.0 460,590.0 470,590.0 480,590.0 490,588.0 500,590.0 510,588.4 520,590.0 530,590.0 540,590.0 550,589.0 560,589.0 570,586.8 580,590.0 590,589.0 600,586.8 610,590.0 620,589.0 630,585.2 640,590.0 650,589.0 660,590.0 670,588.4 680,590.0 690,589.0" fill="none" stroke="#0038C0" stroke-width="1" />
<path d="M328.5,588h3M330,586.5v3M388.5,586h3M390,584.5v3M448.5,587h3M450,585.5v3M488.5,588h3M490,586.5v3M508.5,588h3M510,586.5v3M568.5,587h3M570,585.5v3M598.5,587h3M600,585.5v3M628.5,585h3M630,583.5v3M668.5,588h3M670,586.5v3" stroke="#0038C0" stroke-width="1" fill="none"/>
</g>
<g transform="translate(0.5,0.5)" stroke-linejoin="round">
<polyline points="50,263.3 60,259.6 70,248.9 80,255.9 90,261.0 100,263.8 110,253.4 120,259.6 130,264.0 140,260.3 150,253.5 160,255.5 170,257.3 180,256.3 190,252.3 200,255.5 210,257.3 220,258.8 230,256.3 240,262.2 250,265.0 260,259.5 270,247.9 280,252.8 290,257.2 300,259.5 310,255.7 320,263.9 330,270.6 340,269.6 350,268.4 360,274.3 370,281.8 380,279.5 390,275.0 400,284.0 410,287.7 420,284.0 430,278.0 440,284.0 450,287.4 460,286.0 470,277.3 480,278.8 490,286.2 500,283.0 510,275.5 520,279.5 530,284.0 540,278.0 550,271.6 560,274.2 570,280.1 580,278.0 590,273.5 600,279.4 610,283.9 620,277.2 630,267.5 640,277.0 650,282.8 660,272.2 670,261.5 680,265.5 690,268.4" fill="none" stroke="#ff0000" stroke-width="3.0" />
<polyline points="50,590.0 60,590.0 70,590.0 80,590.0 90,590.0 100,590.0 110,590.0 120,590.0 130,590.0 140,590.0 150,588.3 160,589.6 170,590.0 180,590.0 190,590.0 200,590.0 210,590.0 220,590.0 230,590.0 240,590.0 250,590.0 260,590.0 270,590.0 280,590.0 290,590.0 300,588.5 310,588.3 320,589.3 330,590.0 340,590.0 350,589.2 360,590.0 370,590.0 380,590.0 390,590.0 400,590.0 410,590.0 420,590.0 430,589.3 440,590.0 450,590.0 460,590.0 470,590.0 480,590.0 490,590.0 500,590.0 510,589.0 520,589.0 530,590.0 540,589.0 550,588.0 560,589.0 570,590.0 580,590.0 590,587.8 600,589.2 610,590.0 620,589.0 630,588.0 640,588.0 650,589.0 660,589.0 670,587.5 680,589.3 690,590.0" fill="none" stroke="#ff0000" stroke-width="3.0" />
</g>
<path d="M50.5,0V601M690.5,0V601M50,600.5H691" stroke="#000" stroke-width="1" fill="none" shape-rendering="crispEdges"/>
<g font-family="'Liberation Mono', monospace" fill="#000" style="filter:grayscale(1)">
<text x="19.26 25.26" y="27" style="font-family:'Liberation Sans',sans-serif;font-size:11.3px">80</text>
<text x="19.26 25.26" y="57" style="font-family:'Liberation Sans',sans-serif;font-size:11.3px">75</text>
<text x="19.26 25.26" y="87" style="font-family:'Liberation Sans',sans-serif;font-size:11.3px">70</text>
<text x="19.26 25.26" y="117" style="font-family:'Liberation Sans',sans-serif;font-size:11.3px">65</text>
<text x="19.26 25.26" y="147" style="font-family:'Liberation Sans',sans-serif;font-size:11.3px">60</text>
<text x="19.26 25.26" y="177" style="font-family:'Liberation Sans',sans-serif;font-size:11.3px">55</text>
<text x="19.26 25.26" y="207" style="font-family:'Liberation Sans',sans-serif;font-size:11.3px">50</text>
<text x="19.26 25.26" y="237" style="font-family:'Liberation Sans',sans-serif;font-size:11.3px">45</text>
<text x="19.26 25.26" y="267" style="font-family:'Liberation Sans',sans-serif;font-size:11.3px">40</text>
<text x="19.26 25.26" y="297" style="font-family:'Liberation Sans',sans-serif;font-size:11.3px">35</text>
<text x="19.26 25.26" y="327" style="font-family:'Liberation Sans',sans-serif;font-size:11.3px">30</text>
<text x="19.26 25.26" y="357" style="font-family:'Liberation Sans',sans-serif;font-size:11.3px">25</text>
<text x="19.26 25.26" y="387" style="font-family:'Liberation Sans',sans-serif;font-size:11.3px">20</text>
<text x="19.26 25.26" y="417" style="font-family:'Liberation Sans',sans-serif;font-size:11.3px">15</text>
<text x="19.26 25.26" y="447" style="font-family:'Liberation Sans',sans-serif;font-size:11.3px">10</text>
<text x="19.26" y="477" style="font-family:'Liberation Sans',sans-serif;font-size:11.3px">5</text>
<text x="19.26" y="507" style="font-family:'Liberation Sans',sans-serif;font-size:11.3px">0</text>
<text x="19.10 25.26" y="537" style="font-family:'Liberation Sans',sans-serif;font-size:11.3px">−5</text>
<text x="19.10 25.26 31.26" y="567" style="font-family:'Liberation Sans',sans-serif;font-size:11.3px">−10</text>
<text x="19.10 25.26 31.26" y="597" style="font-family:'Liberation Sans',sans-serif;font-size:11.3px">−15</text>
<text x="709.26 715.26 721.26 727.26" y="27" style="font-family:'Liberation Sans',sans-serif;font-size:11.3px">7600</text>
<text x="709.26 715.26 721.26 727.26" y="57" style="font-family:'Liberation Sans',sans-serif;font-size:11.3px">7200</text>
<text x="709.26 715.26 721.26 727.26" y="87" style="font-family:'Liberation Sans',sans-serif;font-size:11.3px">6800</text>
<text x="709.26 715.26 721.26 727.26" y="117" style="font-family:'Liberation Sans',sans-serif;font-size:11.3px">6400</text>
<text x="709.26 715.26 721.26 727.26" y="147" style="font-family:'Liberation Sans',sans-serif;font-size:11.3px">6000</text>
<text x="709.26 715.26 721.26 727.26" y="177" style="font-family:'Liberation Sans',sans-serif;font-size:11.3px">5600</text>
<text x="709.26 715.26 721.26 727.26" y="207" style="font-family:'Liberation Sans',sans-serif;font-size:11.3px">5200</text>
<text x="709.26 715.26 721.26 727.26" y="237" style="font-family:'Liberation Sans',sans-serif;font-size:11.3px">4800</text>
<text x="709.26 715.26 721.26 727.26" y="267" style="font-family:'Liberation Sans',sans-serif;font-size:11.3px">4400</text>
<text x="709.26 715.26 721.26 727.26" y="297" style="font-family:'Liberation Sans',sans-serif;font-size:11.3px">4000</text>
<text x="709.26 715.26 721.26 727.26" y="327" style="font-family:'Liberation Sans',sans-serif;font-size:11.3px">3600</text>
<text x="709.26 715.26 721.26 727.26" y="357" style="font-family:'Liberation Sans',sans-serif;font-size:11.3px">3200</text>
<text x="709.26 715.26 721.26 727.26" y="387" style="font-family:'Liberation Sans',sans-serif;font-size:11.3px">2800</text>
<text x="709.26 715.26 721.26 727.26" y="417" style="font-family:'Liberation Sans',sans-serif;font-size:11.3px">2400</text>
<text x="709.26 715.26 721.26 727.26" y="447" style="font-family:'Liberation Sans',sans-serif;font-size:11.3px">2000</text>
<text x="709.26 715.26 721.26 727.26" y="477" style="font-family:'Liberation Sans',sans-serif;font-size:11.3px">1600</text>
<text x="709.26 715.26 721.26 727.26" y="507" style="font-family:'Liberation Sans',sans-serif;font-size:11.3px">1200</text>
<text x="709.26 715.26 721.26" y="537" style="font-family:'Liberation Sans',sans-serif;font-size:11.3px">800</text>
<text x="709.26 715.26 721.26" y="567" style="font-family:'Liberation Sans',sans-serif;font-size:11.3px">400</text>
<text x="709.26" y="597" style="font-family:'Liberation Sans',sans-serif;font-size:11.3px">0</text>
<g transform="translate(20,610) scale(0.8197,1)"><text x="0.00 7.32 14.64 21.96" y="0" font-size="12.2" >(°c)</text></g>
<g transform="translate(700,610) scale(0.8197,1)"><text x="0.00 7.32 14.64 21.96 29.28 36.60" y="0" font-size="12.2" >(J/kg)</text></g>
<g transform="translate(60,234) scale(0.8197,1)"><text x="0.00 7.32 14.64 21.96 29.28 36.60 43.92 51.73 59.05 66.37 73.20 80.52 87.84" y="0" font-size="12.2" >ThetaE <tspan font-family="'Liberation Sans', sans-serif" font-size="11.4">850</tspan>hPa</text></g>
<g transform="translate(60,583) scale(0.8197,1)"><text x="0.00 7.32 14.64 21.96" y="0" font-size="12.2" >CAPE</text></g>
<g transform="translate(90.8,631.3) rotate(-90)"><text x="-0.34 5.66 13.23 17.66 23.66" y="0" style="font-family:'Liberation Sans',sans-serif;font-size:11.3px">19/04</text></g>
<g transform="translate(130.8,631.3) rotate(-90)"><text x="-0.34 5.66 13.23 17.66 23.66" y="0" style="font-family:'Liberation Sans',sans-serif;font-size:11.3px">20/04</text></g>
<g transform="translate(170.8,631.3) rotate(-90)"><text x="-0.34 5.66 13.23 17.66 23.66" y="0" style="font-family:'Liberation Sans',sans-serif;font-size:11.3px">21/04</text></g>
<g transform="translate(210.8,631.3) rotate(-90)"><text x="-0.34 5.66 13.23 17.66 23.66" y="0" style="font-family:'Liberation Sans',sans-serif;font-size:11.3px">22/04</text></g>
<g transform="translate(250.8,631.3) rotate(-90)"><text x="-0.34 5.66 13.23 17.66 23.66" y="0" style="font-family:'Liberation Sans',sans-serif;font-size:11.3px">23/04</text></g>
<g transform="translate(290.8,631.3) rotate(-90)"><text x="-0.34 5.66 13.23 17.66 23.66" y="0" style="font-family:'Liberation Sans',sans-serif;font-size:11.3px">24/04</text></g>
<g transform="translate(330.8,631.3) rotate(-90)"><text x="-0.34 5.66 13.23 17.66 23.66" y="0" style="font-family:'Liberation Sans',sans-serif;font-size:11.3px">25/04</text></g>
<g transform="translate(370.8,631.3) rotate(-90)"><text x="-0.34 5.66 13.23 17.66 23.66" y="0" style="font-family:'Liberation Sans',sans-serif;font-size:11.3px">26/04</text></g>
<g transform="translate(410.8,631.3) rotate(-90)"><text x="-0.34 5.66 13.23 17.66 23.66" y="0" style="font-family:'Liberation Sans',sans-serif;font-size:11.3px">27/04</text></g>
<g transform="translate(450.8,631.3) rotate(-90)"><text x="-0.34 5.66 13.23 17.66 23.66" y="0" style="font-family:'Liberation Sans',sans-serif;font-size:11.3px">28/04</text></g>
<g transform="translate(490.8,631.3) rotate(-90)"><text x="-0.34 5.66 13.23 17.66 23.66" y="0" style="font-family:'Liberation Sans',sans-serif;font-size:11.3px">29/04</text></g>
<g transform="translate(530.8,631.3) rotate(-90)"><text x="-0.34 5.66 13.23 17.66 23.66" y="0" style="font-family:'Liberation Sans',sans-serif;font-size:11.3px">30/04</text></g>
<g transform="translate(570.8,631.3) rotate(-90)"><text x="-0.34 5.66 13.23 17.66 23.66" y="0" style="font-family:'Liberation Sans',sans-serif;font-size:11.3px">01/05</text></g>
<g transform="translate(610.8,631.3) rotate(-90)"><text x="-0.34 5.66 13.23 17.66 23.66" y="0" style="font-family:'Liberation Sans',sans-serif;font-size:11.3px">02/05</text></g>
<g transform="translate(650.8,631.3) rotate(-90)"><text x="-0.34 5.66 13.23 17.66 23.66" y="0" style="font-family:'Liberation Sans',sans-serif;font-size:11.3px">03/05</text></g>
<g transform="translate(690.8,631.3) rotate(-90)"><text x="-0.34 5.66 13.23 17.66 23.66" y="0" style="font-family:'Liberation Sans',sans-serif;font-size:11.3px">04/05</text></g>
<g transform="translate(75,650.8) scale(0.8197,1)"><text x="0.00 7.32 14.64 21.96 29.28 36.60 43.92 51.24 58.56 65.88 73.20 80.52 87.84 95.16 102.48 109.80 117.12 124.44 131.76 139.08 146.40" y="0" font-size="12.2" >Moyenne des scénarios</text></g>
<g transform="translate(265,640.8) scale(0.8197,1)"><text x="0.00 7.32 14.64 21.96 29.28 36.60 43.92 51.24 58.56 65.88 73.20 80.52 87.84 95.16 102.48" y="0" font-size="12.2" >Run de contrôle</text></g>
<g transform="translate(265,650.8) scale(0.8197,1)"><text x="0.00 7.32 14.64 21.96 29.28 36.60 43.92" y="0" font-size="12.2" >Run GFS</text></g>
<g transform="translate(340,656) scale(0.8197,1)"><text x="0.49 7.81 14.64 21.96 29.28 36.60 43.92 51.24 58.56" y="0" font-size="12.2" ><tspan font-family="'Liberation Sans', sans-serif" font-size="11.4">30</tspan> Perts.</text></g>
<g transform="translate(30,680.5) scale(0.9563,1)"><text x="0.00 7.32 14.64 21.96 29.28 36.60 43.92 51.24 58.56 65.88 73.20 80.52 87.84 95.16 102.48 109.80 117.12 124.44 131.76 139.08 146.40 153.72 161.04 168.36 175.68 183.00 190.32 197.64 204.96 212.28 219.60 226.92 234.24 242.05 249.37 256.69 263.52 270.84 278.16 285.48 293.29 300.61 307.44 315.25 322.08 329.40 337.21 344.04 351.85 358.68" y="0" font-size="12.2" font-weight="bold" >Diagramme des ensembles GEFS sur <tspan font-family="'Liberation Sans', sans-serif" font-size="11.4">384</tspan>h : <tspan font-family="'Liberation Sans', sans-serif" font-size="11.4">38</tspan>.<tspan font-family="'Liberation Sans', sans-serif" font-size="11.4">8</tspan>N <tspan font-family="'Liberation Sans', sans-serif" font-size="11.4">0</tspan>.<tspan font-family="'Liberation Sans', sans-serif" font-size="11.4">1</tspan>W</text></g>
<g transform="translate(30,694.5) scale(0.8197,1)"><text x="0.00 7.32 14.64 21.96 29.28 36.60 43.92 51.73 59.05 66.37 73.20 80.52 87.84 95.16 102.48 109.80 117.12 124.44 131.76 139.08 146.40 153.72 161.04 168.36 175.68 183.00 190.32 197.64 204.96 212.28 219.60 226.92" y="0" font-size="12.2" >ThetaE <tspan font-family="'Liberation Sans', sans-serif" font-size="11.4">850</tspan>hPa (°C) , CAPE (J/kg)</text></g>
<g transform="translate(449,676) scale(0.8197,1)"><text x="0.00 7.32 14.64 21.96 29.28 36.60 43.92 51.24 58.56 65.88 73.20 80.52 87.84 95.16 102.48 109.80 117.12 124.93 132.25 139.08 146.89 154.21 161.04 168.85 176.17 183.49 190.81 197.64 204.96 212.28 220.09 227.41 234.24" y="0" font-size="12.2" >Ensemble GEFS du <tspan font-family="'Liberation Sans', sans-serif" font-size="11.4">18</tspan>/<tspan font-family="'Liberation Sans', sans-serif" font-size="11.4">04</tspan>/<tspan font-family="'Liberation Sans', sans-serif" font-size="11.4">2026</tspan> - <tspan font-family="'Liberation Sans', sans-serif" font-size="11.4">06</tspan>Z</text></g>
<g transform="translate(449,694.5) scale(0.9563,1)"><text x="0.00 7.32 14.64 21.96 29.28 36.60 43.92 51.24 58.56 65.88 73.69 81.01 88.33 95.65 102.48 109.80 117.12 124.44 131.76 139.08 146.40 153.72 161.04 168.36 175.68 183.00 190.32" y="0" font-size="12.2" font-weight="bold" >Copyright <tspan font-family="'Liberation Sans', sans-serif" font-size="11.4">2026</tspan> Meteociel.fr</text></g>
<text x="400.70 405.60" y="647" style="font-family:'Liberation Sans',sans-serif;font-size:8.0px;font-weight:bold">01</text>
<text x="411.70 416.60" y="647" style="font-family:'Liberation Sans',sans-serif;font-size:8.0px;font-weight:bold">02</text>
<text x="422.70 427.60" y="647" style="font-family:'Liberation Sans',sans-serif;font-size:8.0px;font-weight:bold">03</text>
<text x="433.70 438.60" y="647" style="font-family:'Liberation Sans',sans-serif;font-size:8.0px;font-weight:bold">04</text>
<text x="444.70 449.60" y="647" style="font-family:'Liberation Sans',sans-serif;font-size:8.0px;font-weight:bold">05</text>
<text x="455.70 460.60" y="647" style="font-family:'Liberation Sans',sans-serif;font-size:8.0px;font-weight:bold">06</text>
<text x="466.70 471.60" y="647" style="font-family:'Liberation Sans',sans-serif;font-size:8.0px;font-weight:bold">07</text>
<text x="477.70 482.60" y="647" style="font-family:'Liberation Sans',sans-serif;font-size:8.0px;font-weight:bold">08</text>
<text x="488.70 493.60" y="647" style="font-family:'Liberation Sans',sans-serif;font-size:8.0px;font-weight:bold">09</text>
<text x="499.70 504.60" y="647" style="font-family:'Liberation Sans',sans-serif;font-size:8.0px;font-weight:bold">10</text>
<text x="510.70 515.60" y="647" style="font-family:'Liberation Sans',sans-serif;font-size:8.0px;font-weight:bold">11</text>
<text x="521.70 526.60" y="647" style="font-family:'Liberation Sans',sans-serif;font-size:8.0px;font-weight:bold">12</text>
<text x="532.70 537.60" y="647" style="font-family:'Liberation Sans',sans-serif;font-size:8.0px;font-weight:bold">13</text>
<text x="543.70 548.60" y="647" style="font-family:'Liberation Sans',sans-serif;font-size:8.0px;font-weight:bold">14</text>
<text x="554.70 559.60" y="647" style="font-family:'Liberation Sans',sans-serif;font-size:8.0px;font-weight:bold">15</text>
<text x="565.70 570.60" y="647" style="font-family:'Liberation Sans',sans-serif;font-size:8.0px;font-weight:bold">16</text>
<text x="576.70 581.60" y="647" style="font-family:'Liberation Sans',sans-serif;font-size:8.0px;font-weight:bold">17</text>
<text x="587.70 592.60" y="647" style="font-family:'Liberation Sans',sans-serif;font-size:8.0px;font-weight:bold">18</text>
<text x="598.70 603.60" y="647" style="font-family:'Liberation Sans',sans-serif;font-size:8.0px;font-weight:bold">19</text>
<text x="609.70 614.60" y="647" style="font-family:'Liberation Sans',sans-serif;font-size:8.0px;font-weight:bold">20</text>
<text x="620.70 625.60" y="647" style="font-family:'Liberation Sans',sans-serif;font-size:8.0px;font-weight:bold">21</text>
<text x="631.70 636.60" y="647" style="font-family:'Liberation Sans',sans-serif;font-size:8.0px;font-weight:bold">22</text>
<text x="642.70 647.60" y="647" style="font-family:'Liberation Sans',sans-serif;font-size:8.0px;font-weight:bold">23</text>
<text x="653.70 658.60" y="647" style="font-family:'Liberation Sans',sans-serif;font-size:8.0px;font-weight:bold">24</text>
<text x="664.70 669.60" y="647" style="font-family:'Liberation Sans',sans-serif;font-size:8.0px;font-weight:bold">25</text>
<text x="675.70 680.60" y="647" style="font-family:'Liberation Sans',sans-serif;font-size:8.0px;font-weight:bold">26</text>
<text x="686.70 691.60" y="647" style="font-family:'Liberation Sans',sans-serif;font-size:8.0px;font-weight:bold">27</text>
<text x="697.70 702.60" y="647" style="font-family:'Liberation Sans',sans-serif;font-size:8.0px;font-weight:bold">28</text>
<text x="708.70 713.60" y="647" style="font-family:'Liberation Sans',sans-serif;font-size:8.0px;font-weight:bold">29</text>
<text x="719.70 724.60" y="647" style="font-family:'Liberation Sans',sans-serif;font-size:8.0px;font-weight:bold">30</text>
</g>
<g shape-rendering="crispEdges">
<rect x="35" y="645" width="31" height="4" fill="#ff0000"/>
<rect x="225" y="635" width="31" height="4" fill="#0000ff"/>
<rect x="225" y="645" width="31" height="4" fill="#000"/>
<rect x="400" y="650" width="10" height="6" fill="#E08030"/>
<rect x="411" y="650" width="10" height="6" fill="#80C070"/>
<rect x="422" y="650" width="10" height="6" fill="#F0C010"/>
<rect x="433" y="650" width="10" height="6" fill="#9050B0"/>
<rect x="444" y="650" width="10" height="6" fill="#B05010"/>
<rect x="455" y="650" width="10" height="6" fill="#508010"/>
<rect x="466" y="650" width="10" height="6" fill="#0080FF"/>
<rect x="477" y="650" width="10" height="6" fill="#E8D8B0"/>
<rect x="488" y="650" width="10" height="6" fill="#4090C0"/>
<rect x="499" y="650" width="10" height="6" fill="#E8A850"/>
<rect x="510" y="650" width="10" height="6" fill="#605020"/>
<rect x="521" y="650" width="10" height="6" fill="#F06020"/>
<rect x="532" y="650" width="10" height="6" fill="#D0C070"/>
<rect x="543" y="650" width="10" height="6" fill="#00D050"/>
<rect x="554" y="650" width="10" height="6" fill="#204060"/>
<rect x="565" y="650" width="10" height="6" fill="#687078"/>
<rect x="576" y="650" width="10" height="6" fill="#E080F8"/>
<rect x="587" y="650" width="10" height="6" fill="#8020F0"/>
<rect x="598" y="650" width="10" height="6" fill="#806028"/>
<rect x="609" y="650" width="10" height="6" fill="#300070"/>
<rect x="620" y="650" width="10" height="6" fill="#F0D010"/>
<rect x="631" y="650" width="10" height="6" fill="#2060A0"/>
<rect x="642" y="650" width="10" height="6" fill="#905820"/>
<rect x="653" y="650" width="10" height="6" fill="#A090F0"/>
<rect x="664" y="650" width="10" height="6" fill="#A0F040"/>
<rect x="675" y="650" width="10" height="6" fill="#D070D8"/>
<rect x="686" y="650" width="10" height="6" fill="#2000A0"/>
<rect x="697" y="650" width="10" height="6" fill="#E0D0A8"/>
<rect x="708" y="650" width="10" height="6" fill="#800008"/>
<rect x="719" y="650" width="10" height="6" fill="#0038C0"/>
<rect x="20.5" y="667.5" width="420" height="32" fill="none" stroke="#000" stroke-width="1"/>
</g>
</svg>
</body></html>
